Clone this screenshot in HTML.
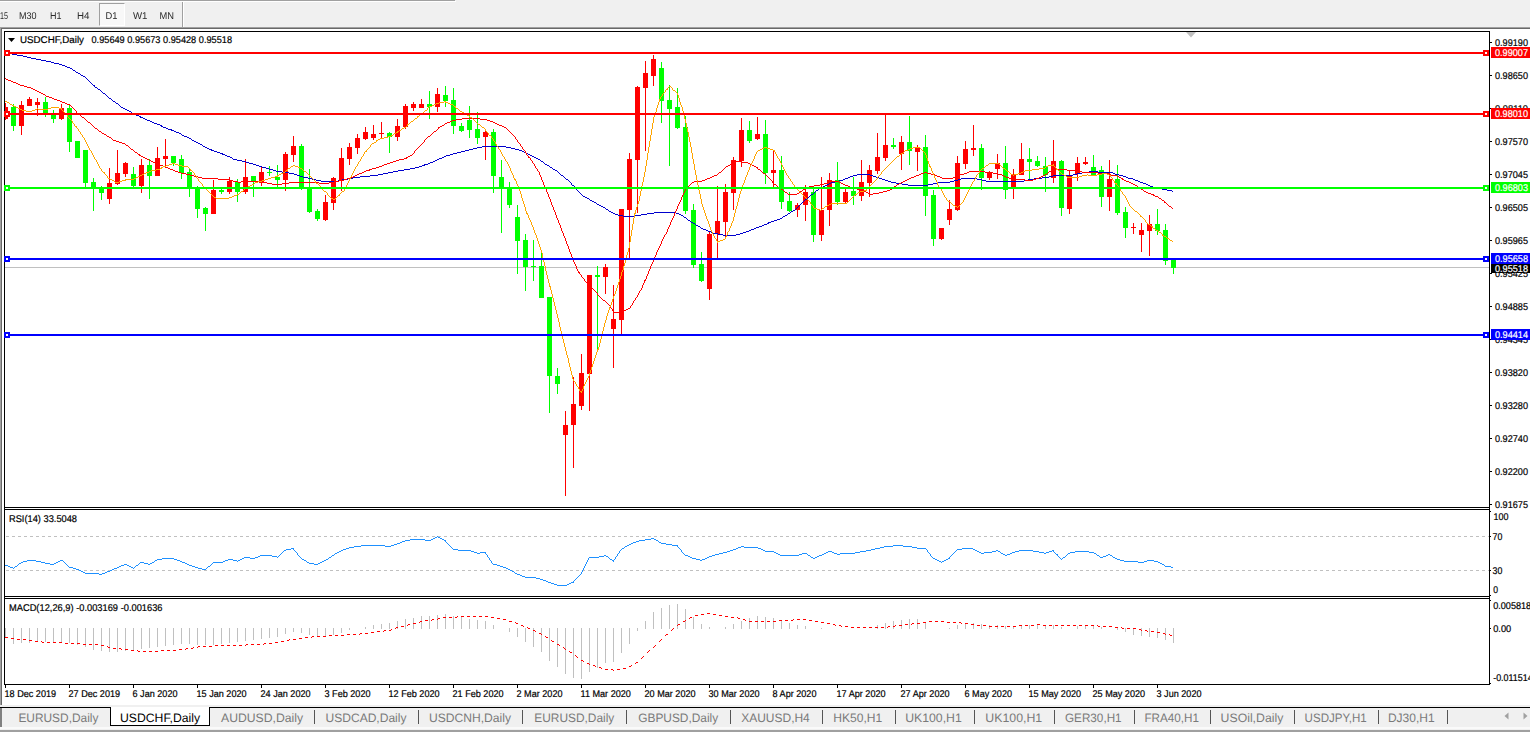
<!DOCTYPE html>
<html><head><meta charset="utf-8"><title>USDCHF,Daily</title>
<style>
html,body{margin:0;padding:0;background:#fff;}
body{width:1530px;height:732px;overflow:hidden;position:relative;font-family:"Liberation Sans",sans-serif;}
.abs{position:absolute;}
#toolbar{left:0;top:0;width:1530px;height:27px;background:#f0f0f0;}
#tl0{left:0;top:0;width:455px;height:1px;background:#a0a0a0;}
#tl1{left:0;top:1px;width:456px;height:1px;background:#fff;}
#d1{left:99px;top:3px;width:24px;height:21px;border:1px solid #fff;border-left-color:#a0a0a0;border-top-color:#a0a0a0;background:#f8f8f8;}
#tsep{left:182px;top:2px;width:1px;height:25px;background:#a0a0a0;}
#tsep2{left:183px;top:2px;width:1px;height:25px;background:#fff;}
#f1{left:0;top:27px;width:1530px;height:1px;background:#a0a0a0;}
#f2{left:1px;top:28px;width:1529px;height:1px;background:#696969;}
#f3{left:0;top:27px;width:1px;height:679px;background:#a0a0a0;}
#f4{left:1px;top:28px;width:1px;height:678px;background:#696969;}
#tabbar{left:0;top:705px;width:1530px;height:27px;background:#f0f0f0;}
#tabline{left:0;top:707px;width:1530px;height:1px;background:#000;}
#tabact{left:110px;top:707px;width:98px;height:18px;background:#fff;border-left:1px solid #000;border-right:1px solid #000;border-bottom:1px solid #000;}
#tbl{left:0;top:708px;width:2px;height:19px;background:#808080;}
#bot1{left:0;top:727px;width:1530px;height:2px;background:#fafafa;}
#bot2{left:0;top:730px;width:1530px;height:2px;background:#a0a0a0;}
svg{position:absolute;left:0;top:0;}
text{font-family:"Liberation Sans",sans-serif;text-rendering:geometricPrecision;}
.ct text{stroke-width:0.2px;}
</style></head><body>
<div id="toolbar" class="abs"></div><div id="tl0" class="abs"></div><div id="tl1" class="abs"></div>
<div id="d1" class="abs"></div><div id="tsep" class="abs"></div><div id="tsep2" class="abs"></div>
<div id="f1" class="abs"></div><div id="f2" class="abs"></div><div id="f3" class="abs"></div><div id="f4" class="abs"></div>
<div id="tabbar" class="abs"></div><div id="tabline" class="abs"></div><div id="tabact" class="abs"></div><div id="tbl" class="abs"></div>
<div id="bot1" class="abs"></div><div id="bot2" class="abs"></div>
<svg width="1530" height="732" viewBox="0 0 1530 732">
<rect x="5" y="267" width="1484" height="1" fill="#c0c0c0"/>
<g shape-rendering="crispEdges">
<path fill="#ff0000" d="M5 103v17h1v-17zM5 107v12h3v-12zM21 101v34h1v-34zM19 105v21h5v-21zM29 97v9h1v-9zM27 99v7h5v-7zM37 98v18h1v-18zM35 102v3h5v-3zM61 104v16h1v-16zM59 108v11h5v-11zM109 168v36h1v-36zM107 183v16h5v-16zM117 150v35h1v-35zM115 173v11h5v-11zM125 162v15h1v-15zM123 163v11h5v-11zM141 159v34h1v-34zM139 165v21h5v-21zM157 147v29h1v-29zM155 158v18h5v-18zM165 139v28h1v-28zM163 156v3h5v-3zM213 180v34h1v-34zM211 190v24h5v-24zM229 177v17h1v-17zM227 181v11h5v-11zM245 159v35h1v-35zM243 177v15h5v-15zM261 167v19h1v-19zM259 172v10h5v-10zM285 152v39h1v-39zM283 154v26h5v-26zM293 136v26h1v-26zM291 146v9h5v-9zM325 195v26h1v-26zM323 202v18h5v-18zM333 177v33h1v-33zM331 178v25h5v-25zM341 148v43h1v-43zM339 158v22h5v-22zM349 143v22h1v-22zM347 147v12h5v-12zM357 134v20h1v-20zM355 138v10h5v-10zM365 127v13h1v-13zM363 132v7h5v-7zM373 125v15h1v-15zM371 134v4h5v-4zM381 122v16h1v-16zM379 133v1h5v-1zM397 119v22h1v-22zM395 126v11h5v-11zM405 104v25h1v-25zM403 106v21h5v-21zM413 102v9h1v-9zM411 104v4h5v-4zM421 99v9h1v-9zM419 104v4h5v-4zM437 88v24h1v-24zM435 94v13h5v-13zM485 129v31h1v-31zM483 132v5h5v-5zM565 411v85h1v-85zM563 425v10h5v-10zM573 377v91h1v-91zM571 404v21h5v-21zM581 354v56h1v-56zM579 373v33h5v-33zM589 275v136h1v-136zM587 275v99h5v-99zM605 264v30h1v-30zM603 267v10h5v-10zM613 285v83h1v-83zM611 319v10h5v-10zM621 209v125h1v-125zM619 209v111h5v-111zM629 153v106h1v-106zM627 159v51h5v-51zM637 86v127h1v-127zM635 87v73h5v-73zM645 61v90h1v-90zM643 73v15h5v-15zM653 55v31h1v-31zM651 59v17h5v-17zM709 232v68h1v-68zM707 234v55h5v-55zM717 186v73h1v-73zM715 221v13h5v-13zM725 184v53h1v-53zM723 192v30h5v-30zM733 157v53h1v-53zM731 160v33h5v-33zM741 118v49h1v-49zM739 130v31h5v-31zM757 117v23h1v-23zM755 134v5h5v-5zM773 150v37h1v-37zM771 170v3h5v-3zM797 203v14h1v-14zM795 205v5h5v-5zM805 185v36h1v-36zM803 192v13h5v-13zM821 177v64h1v-64zM819 210v25h5v-25zM829 173v53h1v-53zM827 180v30h5v-30zM845 189v14h1v-14zM843 192v10h5v-10zM861 160v41h1v-41zM859 182v14h5v-14zM869 165v32h1v-32zM867 170v13h5v-13zM877 133v41h1v-41zM875 157v14h5v-14zM885 115v46h1v-46zM883 145v13h5v-13zM901 136v34h1v-34zM899 142v12h5v-12zM917 145v26h1v-26zM915 147v5h5v-5zM941 228v12h1v-12zM939 228v11h5v-11zM949 200v25h1v-25zM947 209v11h5v-11zM957 156v55h1v-55zM955 163v47h5v-47zM965 141v28h1v-28zM963 149v15h5v-15zM973 125v31h1v-31zM971 148v2h5v-2zM989 171v9h1v-9zM987 172v6h5v-6zM997 154v25h1v-25zM995 163v6h5v-6zM1013 169v30h1v-30zM1011 175v13h5v-13zM1021 143v32h1v-32zM1019 159v16h5v-16zM1053 140v43h1v-43zM1051 161v17h5v-17zM1069 170v44h1v-44zM1067 175v34h5v-34zM1077 157v24h1v-24zM1075 163v11h5v-11zM1085 157v8h1v-8zM1083 162v2h5v-2zM1109 160v51h1v-51zM1107 179v18h5v-18zM1133 223v11h1v-11zM1131 227v1h5v-1zM1141 223v29h1v-29zM1139 230v5h5v-5zM1149 215v41h1v-41zM1147 224v7h5v-7z"/>
<path fill="#00ff00" d="M13 104v27h1v-27zM11 107v19h5v-19zM45 97v20h1v-20zM43 102v11h5v-11zM53 110v13h1v-13zM51 115v4h5v-4zM69 104v48h1v-48zM67 108v34h5v-34zM77 141v17h1v-17zM75 141v17h5v-17zM85 150v38h1v-38zM83 150v33h5v-33zM93 178v33h1v-33zM91 182v6h5v-6zM101 186v14h1v-14zM99 187v6h5v-6zM133 167v21h1v-21zM131 174v12h5v-12zM149 159v40h1v-40zM147 165v11h5v-11zM173 156v10h1v-10zM171 156v7h5v-7zM181 155v24h1v-24zM179 159v14h5v-14zM189 169v28h1v-28zM187 172v16h5v-16zM197 186v32h1v-32zM195 188v21h5v-21zM205 207v24h1v-24zM203 208v6h5v-6zM221 189v5h1v-5zM219 190v2h5v-2zM237 179v23h1v-23zM235 182v10h5v-10zM253 176v21h1v-21zM251 176v6h5v-6zM269 166v10h1v-10zM267 172v1h5v-1zM277 165v23h1v-23zM275 177v3h5v-3zM301 144v46h1v-46zM299 146v42h5v-42zM309 169v44h1v-44zM307 188v24h5v-24zM317 209v12h1v-12zM315 211v8h5v-8zM389 132v21h1v-21zM387 133v4h5v-4zM429 91v28h1v-28zM427 104v3h5v-3zM445 86v21h1v-21zM443 95v6h5v-6zM453 88v46h1v-46zM451 100v26h5v-26zM461 123v9h1v-9zM459 126v5h5v-5zM469 106v32h1v-32zM467 120v10h5v-10zM477 112v32h1v-32zM475 129v9h5v-9zM493 129v64h1v-64zM491 132v44h5v-44zM501 160v73h1v-73zM499 177v11h5v-11zM509 182v26h1v-26zM507 187v18h5v-18zM517 205v69h1v-69zM515 217v24h5v-24zM525 234v57h1v-57zM523 240v27h5v-27zM533 240v41h1v-41zM531 266v1h5v-1zM541 252v46h1v-46zM539 266v32h5v-32zM549 297v116h1v-116zM547 297v79h5v-79zM557 368v26h1v-26zM555 376v8h5v-8zM597 266v84h1v-84zM595 275v2h5v-2zM661 62v61h1v-61zM659 68v33h5v-33zM669 85v81h1v-81zM667 100v9h5v-9zM677 88v41h1v-41zM675 107v21h5v-21zM685 116v98h1v-98zM683 127v84h5v-84zM693 204v64h1v-64zM691 210v55h5v-55zM701 252v30h1v-30zM699 264v17h5v-17zM749 121v22h1v-22zM747 130v11h5v-11zM765 120v64h1v-64zM763 134v39h5v-39zM781 156v53h1v-53zM779 170v32h5v-32zM789 192v20h1v-20zM787 201v10h5v-10zM813 189v53h1v-53zM811 192v43h5v-43zM837 162v43h1v-43zM835 180v22h5v-22zM853 177v28h1v-28zM851 191v5h5v-5zM893 138v11h1v-11zM891 145v2h5v-2zM909 116v49h1v-49zM907 142v9h5v-9zM925 135v81h1v-81zM923 147v49h5v-49zM933 190v56h1v-56zM931 195v44h5v-44zM981 144v46h1v-46zM979 148v30h5v-30zM1005 146v53h1v-53zM1003 163v27h5v-27zM1029 148v33h1v-33zM1027 159v3h5v-3zM1037 156v11h1v-11zM1035 161v5h5v-5zM1045 157v35h1v-35zM1043 166v9h5v-9zM1061 160v56h1v-56zM1059 161v47h5v-47zM1093 155v21h1v-21zM1091 167v9h5v-9zM1101 166v41h1v-41zM1099 170v27h5v-27zM1117 165v50h1v-50zM1115 179v34h5v-34zM1125 207v31h1v-31zM1123 212v16h5v-16zM1157 209v26h1v-26zM1155 224v7h5v-7zM1165 224v41h1v-41zM1163 230v31h5v-31zM1173 260v14h1v-14zM1171 260v8h5v-8z"/>
</g>
<g shape-rendering="crispEdges">
<path fill="#0000cd" d="M12 54h5v1h-5zM17 55h6v1h-6zM23 56h4v1h-4zM27 57h4v1h-4zM31 58h5v1h-5zM36 59h5v1h-5zM41 60h5v1h-5zM46 61h5v1h-5zM51 62h3v1h-3zM54 63h5v1h-5zM59 64h3v1h-3zM62 65h3v1h-3zM65 66h2v1h-2zM67 67h3v1h-3zM70 68h2v1h-2zM72 69h1v1h-1zM73 70h2v1h-2zM75 71h1v1h-1zM76 72h2v1h-2zM78 73h2v1h-2zM80 74h1v1h-1zM81 75h2v1h-2zM83 76h2v1h-2zM85 77h1v1h-1zM86 78h1v1h-1zM87 79h1v1h-1zM88 80h1v1h-1zM89 81h1v1h-1zM90 82h1v1h-1zM91 83h1v1h-1zM92 84h1v1h-1zM93 85h2v1h-2zM94 86h1v1h-1zM95 87h2v1h-2zM97 88h1v1h-1zM98 89h2v1h-2zM100 90h1v1h-1zM101 91h1v1h-1zM102 92h1v1h-1zM103 93h2v1h-2zM105 94h1v1h-1zM106 95h1v1h-1zM107 96h1v1h-1zM108 97h1v1h-1zM109 98h2v1h-2zM111 99h1v1h-1zM112 100h1v1h-1zM113 101h2v1h-2zM115 102h1v1h-1zM116 103h2v1h-2zM118 104h1v1h-1zM119 105h1v1h-1zM120 106h1v1h-1zM121 107h2v1h-2zM123 108h2v1h-2zM125 109h2v1h-2zM127 110h2v1h-2zM129 111h2v1h-2zM131 112h1v1h-1zM132 113h2v1h-2zM134 114h2v1h-2zM136 115h3v1h-3zM139 116h2v1h-2zM140 117h3v1h-3zM143 118h2v1h-2zM145 119h2v1h-2zM147 120h3v1h-3zM150 121h2v1h-2zM152 122h2v1h-2zM154 123h3v1h-3zM157 124h3v1h-3zM160 125h2v1h-2zM161 126h2v1h-2zM163 127h3v1h-3zM166 128h2v1h-2zM168 129h4v1h-4zM171 130h3v1h-3zM174 131h2v1h-2zM176 132h3v1h-3zM179 133h2v1h-2zM181 134h1v1h-1zM182 135h2v1h-2zM184 136h3v1h-3zM187 137h2v1h-2zM189 138h2v1h-2zM191 139h1v1h-1zM192 140h2v1h-2zM194 141h2v1h-2zM196 142h2v1h-2zM198 143h2v1h-2zM200 144h2v1h-2zM202 145h1v1h-1zM203 146h2v1h-2zM482 146h24v1h-24zM205 147h2v1h-2zM477 147h5v1h-5zM506 147h5v1h-5zM207 148h2v1h-2zM473 148h4v1h-4zM511 148h4v1h-4zM209 149h3v1h-3zM469 149h4v1h-4zM515 149h4v1h-4zM211 150h3v1h-3zM465 150h4v1h-4zM519 150h3v1h-3zM214 151h3v1h-3zM461 151h4v1h-4zM522 151h2v1h-2zM217 152h3v1h-3zM457 152h4v1h-4zM524 152h2v1h-2zM220 153h3v1h-3zM453 153h4v1h-4zM526 153h2v1h-2zM222 154h3v1h-3zM450 154h3v1h-3zM528 154h2v1h-2zM225 155h2v1h-2zM446 155h4v1h-4zM530 155h2v1h-2zM227 156h3v1h-3zM444 156h2v1h-2zM532 156h2v1h-2zM230 157h2v1h-2zM442 157h2v1h-2zM534 157h2v1h-2zM232 158h1v1h-1zM439 158h3v1h-3zM536 158h2v1h-2zM233 159h4v1h-4zM437 159h2v1h-2zM538 159h2v1h-2zM237 160h5v1h-5zM435 160h2v1h-2zM540 160h1v1h-1zM242 161h4v1h-4zM433 161h2v1h-2zM541 161h2v1h-2zM246 162h3v1h-3zM430 162h3v1h-3zM543 162h1v1h-1zM249 163h4v1h-4zM428 163h2v1h-2zM544 163h1v1h-1zM253 164h3v1h-3zM424 164h4v1h-4zM545 164h2v1h-2zM256 165h3v1h-3zM422 165h3v1h-3zM547 165h2v1h-2zM259 166h3v1h-3zM419 166h3v1h-3zM549 166h1v1h-1zM262 167h4v1h-4zM415 167h4v1h-4zM550 167h2v1h-2zM266 168h3v1h-3zM410 168h5v1h-5zM552 168h1v1h-1zM269 169h4v1h-4zM404 169h6v1h-6zM553 169h2v1h-2zM273 170h3v1h-3zM398 170h6v1h-6zM555 170h2v1h-2zM276 171h6v1h-6zM393 171h5v1h-5zM557 171h1v1h-1zM1089 171h9v1h-9zM282 172h7v1h-7zM388 172h5v1h-5zM558 172h1v1h-1zM1082 172h7v1h-7zM1098 172h15v1h-15zM289 173h5v1h-5zM383 173h5v1h-5zM559 173h1v1h-1zM1077 173h5v1h-5zM1113 173h2v1h-2zM294 174h3v1h-3zM378 174h5v1h-5zM560 174h1v1h-1zM857 174h13v1h-13zM1073 174h4v1h-4zM1115 174h4v1h-4zM297 175h3v1h-3zM370 175h8v1h-8zM561 175h2v1h-2zM853 175h4v1h-4zM870 175h3v1h-3zM1053 175h20v1h-20zM1119 175h4v1h-4zM300 176h3v1h-3zM360 176h10v1h-10zM563 176h1v1h-1zM850 176h3v1h-3zM873 176h3v1h-3zM1049 176h4v1h-4zM1123 176h3v1h-3zM303 177h5v1h-5zM353 177h7v1h-7zM564 177h1v1h-1zM848 177h2v1h-2zM876 177h3v1h-3zM1042 177h7v1h-7zM1126 177h2v1h-2zM308 178h4v1h-4zM348 178h5v1h-5zM565 178h1v1h-1zM845 178h3v1h-3zM879 178h3v1h-3zM961 178h16v1h-16zM1034 178h8v1h-8zM1128 178h5v1h-5zM312 179h4v1h-4zM342 179h6v1h-6zM566 179h2v1h-2zM843 179h2v1h-2zM882 179h3v1h-3zM958 179h3v1h-3zM977 179h5v1h-5zM1028 179h6v1h-6zM1133 179h2v1h-2zM316 180h5v1h-5zM338 180h4v1h-4zM568 180h1v1h-1zM839 180h4v1h-4zM885 180h3v1h-3zM954 180h4v1h-4zM982 180h4v1h-4zM1024 180h4v1h-4zM1135 180h3v1h-3zM321 181h17v1h-17zM569 181h1v1h-1zM835 181h4v1h-4zM888 181h3v1h-3zM950 181h4v1h-4zM986 181h38v1h-38zM1138 181h2v1h-2zM570 182h1v1h-1zM831 182h4v1h-4zM891 182h5v1h-5zM938 182h12v1h-12zM1140 182h3v1h-3zM571 183h1v1h-1zM829 183h2v1h-2zM896 183h6v1h-6zM933 183h5v1h-5zM1143 183h3v1h-3zM571 184h1v1h-1zM827 184h2v1h-2zM902 184h6v1h-6zM928 184h5v1h-5zM1146 184h2v1h-2zM572 185h2v1h-2zM825 185h2v1h-2zM908 185h20v1h-20zM1148 185h2v1h-2zM574 186h1v1h-1zM823 186h2v1h-2zM1150 186h3v1h-3zM575 187h1v1h-1zM821 187h2v1h-2zM1153 187h4v1h-4zM576 188h1v1h-1zM819 188h2v1h-2zM1157 188h6v1h-6zM576 189h1v1h-1zM818 189h1v1h-1zM1162 189h5v1h-5zM577 190h1v1h-1zM816 190h2v1h-2zM1167 190h5v1h-5zM578 191h1v1h-1zM815 191h1v1h-1zM1172 191h1v1h-1zM579 192h1v1h-1zM814 192h1v1h-1zM580 193h1v1h-1zM813 193h1v1h-1zM581 194h1v1h-1zM811 194h2v1h-2zM582 195h1v1h-1zM810 195h1v1h-1zM583 196h2v1h-2zM809 196h1v1h-1zM585 197h2v1h-2zM808 197h1v1h-1zM587 198h2v1h-2zM807 198h1v1h-1zM589 199h1v1h-1zM805 199h2v1h-2zM590 200h2v1h-2zM804 200h1v1h-1zM592 201h2v1h-2zM803 201h1v1h-1zM594 202h2v1h-2zM802 202h1v1h-1zM596 203h1v1h-1zM801 203h1v1h-1zM597 204h2v1h-2zM800 204h1v1h-1zM599 205h2v1h-2zM799 205h1v1h-1zM601 206h2v1h-2zM798 206h1v1h-1zM603 207h2v1h-2zM797 207h1v1h-1zM605 208h1v1h-1zM796 208h1v1h-1zM606 209h2v1h-2zM795 209h1v1h-1zM608 210h1v1h-1zM793 210h2v1h-2zM609 211h2v1h-2zM791 211h2v1h-2zM611 212h2v1h-2zM654 212h22v1h-22zM790 212h1v1h-1zM613 213h2v1h-2zM647 213h7v1h-7zM676 213h3v1h-3zM788 213h2v1h-2zM615 214h3v1h-3zM641 214h6v1h-6zM679 214h2v1h-2zM787 214h1v1h-1zM618 215h5v1h-5zM634 215h7v1h-7zM681 215h2v1h-2zM785 215h2v1h-2zM623 216h11v1h-11zM683 216h1v1h-1zM783 216h2v1h-2zM684 217h2v1h-2zM782 217h1v1h-1zM686 218h1v1h-1zM780 218h2v1h-2zM687 219h1v1h-1zM777 219h3v1h-3zM688 220h2v1h-2zM774 220h3v1h-3zM690 221h1v1h-1zM771 221h3v1h-3zM691 222h2v1h-2zM768 222h3v1h-3zM693 223h2v1h-2zM767 223h2v1h-2zM695 224h1v1h-1zM764 224h3v1h-3zM696 225h2v1h-2zM762 225h2v1h-2zM698 226h2v1h-2zM759 226h3v1h-3zM700 227h1v1h-1zM756 227h3v1h-3zM701 228h2v1h-2zM754 228h2v1h-2zM703 229h3v1h-3zM751 229h3v1h-3zM706 230h2v1h-2zM749 230h2v1h-2zM708 231h3v1h-3zM746 231h3v1h-3zM711 232h2v1h-2zM743 232h3v1h-3zM713 233h5v1h-5zM740 233h3v1h-3zM718 234h5v1h-5zM736 234h4v1h-4zM723 235h13v1h-13z"/>
<path fill="#ff0000" d="M5 78h1v1h-1zM6 79h2v1h-2zM8 80h3v1h-3zM11 81h2v1h-2zM13 82h3v1h-3zM16 83h2v1h-2zM18 84h2v1h-2zM20 85h4v1h-4zM24 86h3v1h-3zM27 87h4v1h-4zM31 88h2v1h-2zM33 89h2v1h-2zM35 90h2v1h-2zM37 91h2v1h-2zM39 92h2v1h-2zM41 93h2v1h-2zM43 94h2v1h-2zM45 95h1v1h-1zM46 96h3v1h-3zM49 97h3v1h-3zM52 98h2v1h-2zM54 99h3v1h-3zM57 100h3v1h-3zM60 101h2v1h-2zM62 102h3v1h-3zM65 103h2v1h-2zM67 104h3v1h-3zM70 105h1v1h-1zM71 106h1v1h-1zM72 107h1v1h-1zM73 108h1v1h-1zM74 109h1v1h-1zM75 110h1v1h-1zM76 111h1v1h-1zM76 112h1v1h-1zM77 113h2v1h-2zM79 114h1v1h-1zM80 115h1v1h-1zM81 116h1v1h-1zM82 117h2v1h-2zM84 118h1v1h-1zM462 118h18v1h-18zM85 119h1v1h-1zM456 119h6v1h-6zM480 119h7v1h-7zM86 120h1v1h-1zM452 120h4v1h-4zM487 120h3v1h-3zM87 121h1v1h-1zM450 121h2v1h-2zM490 121h3v1h-3zM88 122h2v1h-2zM447 122h3v1h-3zM493 122h2v1h-2zM90 123h1v1h-1zM445 123h2v1h-2zM495 123h2v1h-2zM91 124h1v1h-1zM444 124h1v1h-1zM497 124h2v1h-2zM92 125h1v1h-1zM442 125h2v1h-2zM499 125h3v1h-3zM93 126h1v1h-1zM440 126h2v1h-2zM502 126h2v1h-2zM94 127h1v1h-1zM438 127h2v1h-2zM504 127h2v1h-2zM95 128h2v1h-2zM438 128h1v1h-1zM506 128h1v1h-1zM97 129h1v1h-1zM437 129h1v1h-1zM507 129h1v1h-1zM98 130h1v1h-1zM436 130h1v1h-1zM508 130h1v1h-1zM99 131h2v1h-2zM434 131h2v1h-2zM509 131h1v1h-1zM101 132h1v1h-1zM433 132h1v1h-1zM510 132h1v1h-1zM102 133h2v1h-2zM432 133h1v1h-1zM511 133h1v1h-1zM104 134h2v1h-2zM431 134h1v1h-1zM512 134h1v1h-1zM106 135h1v1h-1zM430 135h1v1h-1zM513 135h1v1h-1zM107 136h2v1h-2zM428 136h2v1h-2zM514 136h1v1h-1zM109 137h2v1h-2zM427 137h1v1h-1zM515 137h1v1h-1zM111 138h1v1h-1zM426 138h1v1h-1zM515 138h1v1h-1zM112 139h1v1h-1zM425 139h1v1h-1zM516 139h1v1h-1zM113 140h3v1h-3zM424 140h1v1h-1zM517 140h1v1h-1zM116 141h3v1h-3zM424 141h1v1h-1zM517 141h1v1h-1zM119 142h3v1h-3zM423 142h1v1h-1zM518 142h1v1h-1zM122 143h3v1h-3zM422 143h1v1h-1zM519 143h1v1h-1zM125 144h1v1h-1zM421 144h1v1h-1zM520 144h1v1h-1zM126 145h2v1h-2zM420 145h1v1h-1zM520 145h1v1h-1zM128 146h1v1h-1zM419 146h1v1h-1zM521 146h1v1h-1zM129 147h1v1h-1zM418 147h1v1h-1zM522 147h1v1h-1zM130 148h1v1h-1zM417 148h1v1h-1zM522 148h1v1h-1zM131 149h2v1h-2zM416 149h1v1h-1zM523 149h1v1h-1zM133 150h1v1h-1zM415 150h1v1h-1zM524 150h1v1h-1zM134 151h1v1h-1zM414 151h1v1h-1zM525 151h1v1h-1zM135 152h2v1h-2zM414 152h1v1h-1zM525 152h1v1h-1zM137 153h1v1h-1zM413 153h1v1h-1zM526 153h1v1h-1zM138 154h2v1h-2zM412 154h1v1h-1zM526 154h1v1h-1zM139 155h2v1h-2zM410 155h2v1h-2zM527 155h1v1h-1zM141 156h2v1h-2zM408 156h2v1h-2zM528 156h1v1h-1zM143 157h2v1h-2zM406 157h2v1h-2zM528 157h2v1h-2zM145 158h2v1h-2zM404 158h3v1h-3zM530 158h1v1h-1zM147 159h2v1h-2zM399 159h5v1h-5zM530 159h1v1h-1zM149 160h2v1h-2zM396 160h3v1h-3zM531 160h1v1h-1zM151 161h2v1h-2zM393 161h3v1h-3zM532 161h1v1h-1zM735 161h7v1h-7zM153 162h2v1h-2zM390 162h3v1h-3zM532 162h1v1h-1zM733 162h2v1h-2zM742 162h6v1h-6zM155 163h3v1h-3zM387 163h3v1h-3zM533 163h1v1h-1zM731 163h2v1h-2zM748 163h2v1h-2zM158 164h2v1h-2zM384 164h3v1h-3zM534 164h1v1h-1zM730 164h1v1h-1zM750 164h2v1h-2zM160 165h3v1h-3zM382 165h2v1h-2zM534 165h1v1h-1zM728 165h2v1h-2zM752 165h2v1h-2zM163 166h2v1h-2zM379 166h3v1h-3zM535 166h1v1h-1zM726 166h2v1h-2zM754 166h2v1h-2zM165 167h3v1h-3zM376 167h3v1h-3zM535 167h1v1h-1zM725 167h1v1h-1zM756 167h2v1h-2zM168 168h2v1h-2zM372 168h4v1h-4zM536 168h1v1h-1zM724 168h1v1h-1zM757 168h1v1h-1zM170 169h3v1h-3zM369 169h3v1h-3zM537 169h1v1h-1zM723 169h1v1h-1zM758 169h2v1h-2zM1055 169h12v1h-12zM173 170h2v1h-2zM366 170h4v1h-4zM537 170h1v1h-1zM722 170h1v1h-1zM760 170h1v1h-1zM1052 170h3v1h-3zM1067 170h9v1h-9zM175 171h3v1h-3zM364 171h2v1h-2zM538 171h1v1h-1zM721 171h1v1h-1zM761 171h1v1h-1zM969 171h16v1h-16zM1049 171h3v1h-3zM1076 171h6v1h-6zM178 172h3v1h-3zM362 172h2v1h-2zM539 172h1v1h-1zM719 172h2v1h-2zM762 172h1v1h-1zM924 172h3v1h-3zM967 172h2v1h-2zM985 172h8v1h-8zM1048 172h1v1h-1zM1082 172h16v1h-16zM181 173h5v1h-5zM359 173h3v1h-3zM539 173h1v1h-1zM718 173h1v1h-1zM763 173h2v1h-2zM921 173h3v1h-3zM927 173h4v1h-4zM964 173h3v1h-3zM993 173h5v1h-5zM1047 173h1v1h-1zM1098 173h11v1h-11zM186 174h4v1h-4zM357 174h2v1h-2zM539 174h1v1h-1zM717 174h1v1h-1zM765 174h1v1h-1zM919 174h2v1h-2zM931 174h4v1h-4zM960 174h4v1h-4zM998 174h4v1h-4zM1045 174h2v1h-2zM1109 174h2v1h-2zM190 175h4v1h-4zM355 175h2v1h-2zM540 175h1v1h-1zM714 175h3v1h-3zM766 175h1v1h-1zM916 175h3v1h-3zM935 175h2v1h-2zM958 175h2v1h-2zM1002 175h2v1h-2zM1043 175h2v1h-2zM1111 175h6v1h-6zM194 176h4v1h-4zM353 176h2v1h-2zM540 176h1v1h-1zM712 176h2v1h-2zM767 176h1v1h-1zM914 176h2v1h-2zM937 176h3v1h-3zM955 176h3v1h-3zM1004 176h2v1h-2zM1041 176h2v1h-2zM1117 176h2v1h-2zM198 177h4v1h-4zM350 177h3v1h-3zM541 177h1v1h-1zM710 177h2v1h-2zM768 177h1v1h-1zM911 177h3v1h-3zM940 177h2v1h-2zM953 177h2v1h-2zM1006 177h3v1h-3zM1039 177h2v1h-2zM1119 177h2v1h-2zM202 178h16v1h-16zM347 178h3v1h-3zM541 178h1v1h-1zM707 178h3v1h-3zM769 178h1v1h-1zM909 178h2v1h-2zM942 178h11v1h-11zM1009 178h2v1h-2zM1036 178h3v1h-3zM1121 178h2v1h-2zM218 179h12v1h-12zM344 179h3v1h-3zM541 179h1v1h-1zM705 179h2v1h-2zM770 179h1v1h-1zM907 179h2v1h-2zM1011 179h14v1h-14zM1033 179h3v1h-3zM1122 179h2v1h-2zM229 180h4v1h-4zM339 180h5v1h-5zM542 180h1v1h-1zM702 180h3v1h-3zM771 180h1v1h-1zM905 180h2v1h-2zM1025 180h8v1h-8zM1124 180h2v1h-2zM233 181h5v1h-5zM241 181h18v1h-18zM334 181h5v1h-5zM542 181h1v1h-1zM694 181h8v1h-8zM772 181h1v1h-1zM829 181h10v1h-10zM903 181h2v1h-2zM1126 181h3v1h-3zM238 182h3v1h-3zM259 182h8v1h-8zM289 182h30v1h-30zM329 182h5v1h-5zM543 182h1v1h-1zM692 182h2v1h-2zM772 182h1v1h-1zM827 182h2v1h-2zM839 182h2v1h-2zM901 182h2v1h-2zM1129 182h2v1h-2zM267 183h5v1h-5zM282 183h7v1h-7zM319 183h10v1h-10zM543 183h1v1h-1zM691 183h1v1h-1zM773 183h1v1h-1zM824 183h3v1h-3zM841 183h2v1h-2zM899 183h2v1h-2zM1131 183h2v1h-2zM272 184h10v1h-10zM543 184h1v1h-1zM690 184h1v1h-1zM774 184h2v1h-2zM820 184h4v1h-4zM843 184h2v1h-2zM897 184h2v1h-2zM1133 184h2v1h-2zM544 185h1v1h-1zM689 185h1v1h-1zM776 185h1v1h-1zM814 185h6v1h-6zM845 185h3v1h-3zM896 185h1v1h-1zM1135 185h2v1h-2zM544 186h1v1h-1zM688 186h1v1h-1zM777 186h1v1h-1zM809 186h5v1h-5zM848 186h2v1h-2zM894 186h2v1h-2zM1137 186h1v1h-1zM545 187h1v1h-1zM687 187h1v1h-1zM778 187h2v1h-2zM807 187h2v1h-2zM850 187h3v1h-3zM893 187h1v1h-1zM1138 187h2v1h-2zM545 188h1v1h-1zM686 188h1v1h-1zM780 188h1v1h-1zM805 188h2v1h-2zM853 188h4v1h-4zM892 188h1v1h-1zM1140 188h1v1h-1zM546 189h1v1h-1zM685 189h1v1h-1zM781 189h2v1h-2zM803 189h2v1h-2zM857 189h4v1h-4zM890 189h2v1h-2zM1141 189h2v1h-2zM546 190h1v1h-1zM685 190h1v1h-1zM783 190h1v1h-1zM802 190h1v1h-1zM861 190h3v1h-3zM887 190h3v1h-3zM1143 190h1v1h-1zM546 191h1v1h-1zM684 191h1v1h-1zM784 191h1v1h-1zM800 191h2v1h-2zM864 191h2v1h-2zM883 191h4v1h-4zM1144 191h2v1h-2zM547 192h1v1h-1zM684 192h1v1h-1zM785 192h2v1h-2zM799 192h1v1h-1zM866 192h2v1h-2zM879 192h4v1h-4zM1146 192h2v1h-2zM547 193h1v1h-1zM683 193h1v1h-1zM787 193h1v1h-1zM797 193h2v1h-2zM868 193h2v1h-2zM873 193h6v1h-6zM1148 193h3v1h-3zM548 194h1v1h-1zM683 194h1v1h-1zM788 194h9v1h-9zM870 194h3v1h-3zM1151 194h3v1h-3zM548 195h1v1h-1zM682 195h1v1h-1zM1153 195h2v1h-2zM548 196h1v1h-1zM682 196h1v1h-1zM1155 196h3v1h-3zM549 197h1v1h-1zM681 197h1v1h-1zM1158 197h1v1h-1zM549 198h1v1h-1zM681 198h1v1h-1zM1159 198h2v1h-2zM550 199h1v1h-1zM681 199h1v1h-1zM1161 199h1v1h-1zM550 200h1v1h-1zM680 200h1v1h-1zM1162 200h2v1h-2zM550 201h1v1h-1zM680 201h1v1h-1zM1164 201h1v1h-1zM551 202h1v1h-1zM679 202h1v1h-1zM1164 202h2v1h-2zM551 203h1v1h-1zM679 203h1v1h-1zM1166 203h1v1h-1zM551 204h1v1h-1zM678 204h1v1h-1zM1167 204h1v1h-1zM552 205h1v1h-1zM678 205h1v1h-1zM1168 205h1v1h-1zM552 206h1v1h-1zM677 206h1v1h-1zM1169 206h2v1h-2zM553 207h1v1h-1zM677 207h1v1h-1zM1171 207h1v1h-1zM553 208h1v1h-1zM677 208h1v1h-1zM1172 208h1v1h-1zM553 209h1v1h-1zM676 209h1v1h-1zM554 210h1v1h-1zM676 210h1v1h-1zM554 211h1v1h-1zM675 211h1v1h-1zM555 212h1v1h-1zM675 212h1v1h-1zM555 213h1v1h-1zM674 213h1v1h-1zM555 214h1v1h-1zM674 214h1v1h-1zM556 215h1v1h-1zM674 215h1v1h-1zM556 216h1v1h-1zM673 216h1v1h-1zM556 217h1v1h-1zM673 217h1v1h-1zM557 218h1v1h-1zM672 218h1v1h-1zM557 219h1v1h-1zM672 219h1v1h-1zM558 220h1v1h-1zM671 220h1v1h-1zM558 221h1v1h-1zM671 221h1v1h-1zM558 222h1v1h-1zM670 222h1v1h-1zM559 223h1v1h-1zM670 223h1v1h-1zM559 224h1v1h-1zM670 224h1v1h-1zM560 225h1v1h-1zM669 225h1v1h-1zM560 226h1v1h-1zM669 226h1v1h-1zM560 227h1v1h-1zM668 227h1v1h-1zM561 228h1v1h-1zM668 228h1v1h-1zM561 229h1v1h-1zM667 229h1v1h-1zM561 230h1v1h-1zM667 230h1v1h-1zM562 231h1v1h-1zM667 231h1v1h-1zM562 232h1v1h-1zM666 232h1v1h-1zM563 233h1v1h-1zM666 233h1v1h-1zM563 234h1v1h-1zM665 234h1v1h-1zM563 235h1v1h-1zM664 235h1v1h-1zM564 236h1v1h-1zM664 236h1v1h-1zM564 237h1v1h-1zM663 237h1v1h-1zM565 238h1v1h-1zM663 238h1v1h-1zM565 239h1v1h-1zM662 239h1v1h-1zM565 240h1v1h-1zM662 240h1v1h-1zM566 241h1v1h-1zM661 241h1v1h-1zM566 242h1v1h-1zM661 242h1v1h-1zM566 243h1v1h-1zM661 243h1v1h-1zM567 244h1v1h-1zM660 244h1v1h-1zM567 245h1v1h-1zM660 245h1v1h-1zM568 246h1v1h-1zM659 246h1v1h-1zM568 247h1v1h-1zM659 247h1v1h-1zM568 248h1v1h-1zM658 248h1v1h-1zM569 249h1v1h-1zM658 249h1v1h-1zM569 250h1v1h-1zM657 250h1v1h-1zM569 251h1v1h-1zM657 251h1v1h-1zM570 252h1v1h-1zM656 252h1v1h-1zM570 253h1v1h-1zM656 253h1v1h-1zM571 254h1v1h-1zM656 254h1v1h-1zM571 255h1v1h-1zM655 255h1v1h-1zM571 256h1v1h-1zM655 256h1v1h-1zM572 257h1v1h-1zM654 257h1v1h-1zM572 258h1v1h-1zM654 258h1v1h-1zM573 259h1v1h-1zM653 259h1v1h-1zM573 260h1v1h-1zM653 260h1v1h-1zM573 261h1v1h-1zM653 261h1v1h-1zM574 262h1v1h-1zM652 262h1v1h-1zM574 263h1v1h-1zM652 263h1v1h-1zM575 264h1v1h-1zM651 264h1v1h-1zM575 265h1v1h-1zM651 265h1v1h-1zM576 266h1v1h-1zM650 266h1v1h-1zM576 267h1v1h-1zM650 267h1v1h-1zM576 268h1v1h-1zM650 268h1v1h-1zM577 269h1v1h-1zM649 269h1v1h-1zM577 270h1v1h-1zM649 270h1v1h-1zM578 271h1v1h-1zM648 271h1v1h-1zM578 272h2v1h-2zM648 272h1v1h-1zM579 273h1v1h-1zM648 273h1v1h-1zM580 274h1v1h-1zM647 274h1v1h-1zM581 275h1v1h-1zM647 275h1v1h-1zM581 276h1v1h-1zM646 276h1v1h-1zM582 277h1v1h-1zM646 277h1v1h-1zM583 278h1v1h-1zM646 278h1v1h-1zM584 279h1v1h-1zM645 279h1v1h-1zM584 280h1v1h-1zM644 280h2v1h-2zM585 281h1v1h-1zM644 281h1v1h-1zM586 282h1v1h-1zM644 282h1v1h-1zM587 283h1v1h-1zM643 283h1v1h-1zM588 284h1v1h-1zM643 284h1v1h-1zM589 285h1v1h-1zM642 285h1v1h-1zM589 286h1v1h-1zM642 286h1v1h-1zM590 287h1v1h-1zM642 287h1v1h-1zM591 288h2v1h-2zM641 288h1v1h-1zM593 289h1v1h-1zM641 289h1v1h-1zM594 290h1v1h-1zM640 290h1v1h-1zM595 291h1v1h-1zM639 291h1v1h-1zM596 292h1v1h-1zM639 292h1v1h-1zM597 293h1v1h-1zM638 293h1v1h-1zM597 294h1v1h-1zM638 294h1v1h-1zM598 295h1v1h-1zM637 295h1v1h-1zM599 296h1v1h-1zM637 296h1v1h-1zM600 297h1v1h-1zM636 297h1v1h-1zM601 298h1v1h-1zM635 298h1v1h-1zM602 299h1v1h-1zM635 299h1v1h-1zM603 300h2v1h-2zM634 300h1v1h-1zM605 301h1v1h-1zM633 301h1v1h-1zM606 302h1v1h-1zM633 302h1v1h-1zM607 303h1v1h-1zM632 303h1v1h-1zM608 304h1v1h-1zM632 304h1v1h-1zM609 305h1v1h-1zM631 305h1v1h-1zM610 306h1v1h-1zM630 306h1v1h-1zM610 307h1v1h-1zM630 307h1v1h-1zM611 308h1v1h-1zM628 308h2v1h-2zM612 309h1v1h-1zM626 309h2v1h-2zM612 310h1v1h-1zM624 310h2v1h-2zM613 311h1v1h-1zM623 311h1v1h-1zM614 312h9v1h-9z"/>
<path fill="#ffa500" d="M669 86h2v1h-2zM668 87h1v1h-1zM671 87h1v1h-1zM667 88h1v1h-1zM672 88h1v1h-1zM666 89h2v1h-2zM672 89h1v1h-1zM665 90h1v1h-1zM673 90h2v1h-2zM665 91h1v1h-1zM675 91h1v1h-1zM664 92h1v1h-1zM676 92h1v1h-1zM663 93h1v1h-1zM677 93h1v1h-1zM662 94h1v1h-1zM677 94h1v1h-1zM662 95h1v1h-1zM678 95h1v1h-1zM661 96h1v1h-1zM678 96h1v1h-1zM660 97h1v1h-1zM678 97h1v1h-1zM660 98h1v1h-1zM679 98h1v1h-1zM659 99h1v1h-1zM679 99h1v1h-1zM659 100h1v1h-1zM679 100h1v1h-1zM5 101h2v1h-2zM444 101h2v1h-2zM659 101h1v1h-1zM679 101h1v1h-1zM7 102h2v1h-2zM439 102h5v1h-5zM445 102h3v1h-3zM658 102h1v1h-1zM680 102h1v1h-1zM9 103h1v1h-1zM436 103h3v1h-3zM448 103h2v1h-2zM658 103h1v1h-1zM680 103h1v1h-1zM10 104h2v1h-2zM434 104h2v1h-2zM450 104h3v1h-3zM658 104h1v1h-1zM680 104h1v1h-1zM12 105h2v1h-2zM432 105h2v1h-2zM453 105h1v1h-1zM657 105h1v1h-1zM681 105h1v1h-1zM14 106h2v1h-2zM429 106h3v1h-3zM454 106h2v1h-2zM657 106h1v1h-1zM681 106h1v1h-1zM16 107h2v1h-2zM51 107h8v1h-8zM428 107h1v1h-1zM455 107h1v1h-1zM657 107h1v1h-1zM682 107h1v1h-1zM18 108h2v1h-2zM37 108h1v1h-1zM48 108h3v1h-3zM59 108h3v1h-3zM427 108h1v1h-1zM456 108h2v1h-2zM656 108h1v1h-1zM682 108h1v1h-1zM20 109h2v1h-2zM35 109h2v1h-2zM38 109h10v1h-10zM61 109h1v1h-1zM427 109h1v1h-1zM458 109h1v1h-1zM656 109h1v1h-1zM682 109h1v1h-1zM22 110h4v1h-4zM32 110h3v1h-3zM62 110h1v1h-1zM425 110h2v1h-2zM459 110h1v1h-1zM656 110h1v1h-1zM682 110h1v1h-1zM26 111h6v1h-6zM63 111h1v1h-1zM424 111h1v1h-1zM460 111h2v1h-2zM656 111h1v1h-1zM683 111h1v1h-1zM64 112h1v1h-1zM423 112h1v1h-1zM462 112h2v1h-2zM655 112h1v1h-1zM683 112h1v1h-1zM64 113h1v1h-1zM422 113h1v1h-1zM464 113h2v1h-2zM655 113h1v1h-1zM683 113h1v1h-1zM65 114h2v1h-2zM420 114h2v1h-2zM466 114h1v1h-1zM654 114h2v1h-2zM684 114h1v1h-1zM67 115h1v1h-1zM419 115h1v1h-1zM467 115h2v1h-2zM654 115h1v1h-1zM684 115h1v1h-1zM67 116h1v1h-1zM417 116h2v1h-2zM469 116h1v1h-1zM654 116h1v1h-1zM684 116h1v1h-1zM68 117h1v1h-1zM417 117h1v1h-1zM470 117h2v1h-2zM653 117h1v1h-1zM684 117h1v1h-1zM69 118h1v1h-1zM415 118h2v1h-2zM472 118h1v1h-1zM653 118h1v1h-1zM684 118h1v1h-1zM70 119h1v1h-1zM414 119h1v1h-1zM473 119h1v1h-1zM653 119h1v1h-1zM685 119h1v1h-1zM71 120h1v1h-1zM413 120h1v1h-1zM474 120h1v1h-1zM653 120h1v1h-1zM685 120h1v1h-1zM72 121h1v1h-1zM411 121h2v1h-2zM475 121h1v1h-1zM653 121h1v1h-1zM685 121h1v1h-1zM72 122h1v1h-1zM410 122h1v1h-1zM476 122h1v1h-1zM653 122h1v1h-1zM685 122h1v1h-1zM73 123h1v1h-1zM409 123h1v1h-1zM477 123h1v1h-1zM652 123h1v1h-1zM686 123h1v1h-1zM74 124h1v1h-1zM407 124h2v1h-2zM478 124h2v1h-2zM652 124h1v1h-1zM686 124h1v1h-1zM74 125h1v1h-1zM407 125h1v1h-1zM480 125h1v1h-1zM652 125h1v1h-1zM686 125h1v1h-1zM75 126h2v1h-2zM406 126h1v1h-1zM481 126h1v1h-1zM652 126h1v1h-1zM686 126h1v1h-1zM76 127h1v1h-1zM404 127h2v1h-2zM482 127h2v1h-2zM652 127h1v1h-1zM686 127h1v1h-1zM77 128h1v1h-1zM402 128h2v1h-2zM484 128h1v1h-1zM652 128h1v1h-1zM687 128h1v1h-1zM78 129h1v1h-1zM401 129h1v1h-1zM485 129h1v1h-1zM651 129h1v1h-1zM687 129h1v1h-1zM78 130h1v1h-1zM399 130h2v1h-2zM485 130h1v1h-1zM651 130h1v1h-1zM687 130h1v1h-1zM79 131h1v1h-1zM397 131h2v1h-2zM486 131h1v1h-1zM651 131h1v1h-1zM687 131h1v1h-1zM80 132h1v1h-1zM396 132h2v1h-2zM487 132h1v1h-1zM651 132h1v1h-1zM688 132h1v1h-1zM80 133h1v1h-1zM394 133h2v1h-2zM488 133h1v1h-1zM651 133h1v1h-1zM688 133h1v1h-1zM81 134h1v1h-1zM393 134h1v1h-1zM488 134h1v1h-1zM651 134h1v1h-1zM688 134h1v1h-1zM82 135h1v1h-1zM391 135h2v1h-2zM489 135h2v1h-2zM650 135h1v1h-1zM688 135h1v1h-1zM82 136h1v1h-1zM388 136h3v1h-3zM491 136h1v1h-1zM650 136h1v1h-1zM688 136h1v1h-1zM83 137h1v1h-1zM384 137h4v1h-4zM491 137h1v1h-1zM650 137h1v1h-1zM689 137h1v1h-1zM84 138h1v1h-1zM380 138h4v1h-4zM492 138h1v1h-1zM650 138h1v1h-1zM689 138h1v1h-1zM84 139h1v1h-1zM378 139h2v1h-2zM493 139h1v1h-1zM650 139h1v1h-1zM689 139h1v1h-1zM85 140h1v1h-1zM376 140h2v1h-2zM493 140h1v1h-1zM650 140h1v1h-1zM689 140h1v1h-1zM85 141h1v1h-1zM376 141h1v1h-1zM494 141h1v1h-1zM649 141h1v1h-1zM689 141h1v1h-1zM86 142h1v1h-1zM374 142h2v1h-2zM495 142h1v1h-1zM649 142h1v1h-1zM690 142h1v1h-1zM86 143h1v1h-1zM372 143h2v1h-2zM495 143h1v1h-1zM649 143h1v1h-1zM690 143h1v1h-1zM87 144h1v1h-1zM371 144h1v1h-1zM496 144h1v1h-1zM649 144h1v1h-1zM690 144h1v1h-1zM87 145h1v1h-1zM370 145h1v1h-1zM496 145h1v1h-1zM649 145h1v1h-1zM690 145h1v1h-1zM88 146h1v1h-1zM370 146h1v1h-1zM497 146h1v1h-1zM649 146h1v1h-1zM690 146h1v1h-1zM88 147h1v1h-1zM369 147h1v1h-1zM498 147h1v1h-1zM648 147h1v1h-1zM691 147h1v1h-1zM764 147h3v1h-3zM913 147h7v1h-7zM89 148h1v1h-1zM368 148h1v1h-1zM498 148h1v1h-1zM648 148h1v1h-1zM691 148h1v1h-1zM762 148h2v1h-2zM767 148h3v1h-3zM910 148h3v1h-3zM920 148h1v1h-1zM89 149h1v1h-1zM367 149h1v1h-1zM499 149h1v1h-1zM648 149h1v1h-1zM691 149h1v1h-1zM760 149h2v1h-2zM770 149h3v1h-3zM908 149h2v1h-2zM921 149h1v1h-1zM90 150h1v1h-1zM366 150h1v1h-1zM500 150h1v1h-1zM648 150h1v1h-1zM691 150h1v1h-1zM758 150h2v1h-2zM773 150h2v1h-2zM905 150h3v1h-3zM922 150h1v1h-1zM91 151h1v1h-1zM365 151h2v1h-2zM500 151h1v1h-1zM648 151h1v1h-1zM691 151h1v1h-1zM757 151h1v1h-1zM774 151h1v1h-1zM904 151h1v1h-1zM923 151h1v1h-1zM91 152h1v1h-1zM364 152h1v1h-1zM501 152h1v1h-1zM648 152h1v1h-1zM691 152h1v1h-1zM756 152h1v1h-1zM775 152h1v1h-1zM903 152h1v1h-1zM924 152h1v1h-1zM92 153h1v1h-1zM364 153h1v1h-1zM501 153h1v1h-1zM647 153h1v1h-1zM692 153h1v1h-1zM756 153h1v1h-1zM775 153h1v1h-1zM901 153h2v1h-2zM925 153h1v1h-1zM92 154h1v1h-1zM363 154h1v1h-1zM502 154h1v1h-1zM647 154h1v1h-1zM692 154h1v1h-1zM755 154h1v1h-1zM776 154h1v1h-1zM900 154h1v1h-1zM925 154h1v1h-1zM93 155h1v1h-1zM363 155h1v1h-1zM502 155h1v1h-1zM647 155h1v1h-1zM692 155h1v1h-1zM755 155h1v1h-1zM776 155h1v1h-1zM899 155h1v1h-1zM926 155h1v1h-1zM93 156h1v1h-1zM362 156h1v1h-1zM503 156h1v1h-1zM647 156h1v1h-1zM692 156h1v1h-1zM754 156h1v1h-1zM777 156h1v1h-1zM897 156h2v1h-2zM926 156h1v1h-1zM94 157h1v1h-1zM361 157h1v1h-1zM504 157h1v1h-1zM647 157h1v1h-1zM692 157h1v1h-1zM754 157h1v1h-1zM777 157h1v1h-1zM896 157h1v1h-1zM926 157h1v1h-1zM94 158h1v1h-1zM361 158h1v1h-1zM504 158h1v1h-1zM647 158h1v1h-1zM692 158h1v1h-1zM754 158h1v1h-1zM778 158h1v1h-1zM895 158h1v1h-1zM927 158h1v1h-1zM95 159h1v1h-1zM360 159h1v1h-1zM505 159h1v1h-1zM647 159h1v1h-1zM693 159h1v1h-1zM753 159h1v1h-1zM779 159h1v1h-1zM894 159h1v1h-1zM927 159h1v1h-1zM96 160h1v1h-1zM360 160h1v1h-1zM505 160h1v1h-1zM646 160h1v1h-1zM693 160h1v1h-1zM753 160h1v1h-1zM779 160h1v1h-1zM893 160h1v1h-1zM927 160h1v1h-1zM96 161h1v1h-1zM359 161h1v1h-1zM506 161h1v1h-1zM646 161h1v1h-1zM693 161h1v1h-1zM752 161h1v1h-1zM780 161h1v1h-1zM892 161h1v1h-1zM928 161h1v1h-1zM97 162h1v1h-1zM358 162h1v1h-1zM507 162h1v1h-1zM646 162h1v1h-1zM693 162h1v1h-1zM752 162h1v1h-1zM780 162h1v1h-1zM891 162h1v1h-1zM928 162h1v1h-1zM97 163h1v1h-1zM172 163h3v1h-3zM358 163h1v1h-1zM507 163h1v1h-1zM646 163h1v1h-1zM693 163h1v1h-1zM751 163h1v1h-1zM781 163h1v1h-1zM890 163h1v1h-1zM928 163h1v1h-1zM989 163h10v1h-10zM98 164h1v1h-1zM169 164h3v1h-3zM175 164h3v1h-3zM357 164h1v1h-1zM508 164h1v1h-1zM646 164h1v1h-1zM694 164h1v1h-1zM751 164h1v1h-1zM781 164h1v1h-1zM889 164h1v1h-1zM929 164h1v1h-1zM988 164h1v1h-1zM999 164h1v1h-1zM1053 164h1v1h-1zM98 165h1v1h-1zM166 165h3v1h-3zM178 165h4v1h-4zM293 165h2v1h-2zM357 165h1v1h-1zM508 165h1v1h-1zM646 165h1v1h-1zM694 165h1v1h-1zM750 165h1v1h-1zM782 165h1v1h-1zM888 165h1v1h-1zM929 165h1v1h-1zM986 165h2v1h-2zM1000 165h1v1h-1zM1048 165h6v1h-6zM99 166h1v1h-1zM163 166h3v1h-3zM182 166h6v1h-6zM291 166h2v1h-2zM295 166h3v1h-3zM356 166h1v1h-1zM509 166h1v1h-1zM645 166h1v1h-1zM694 166h1v1h-1zM750 166h1v1h-1zM782 166h1v1h-1zM887 166h1v1h-1zM929 166h2v1h-2zM985 166h1v1h-1zM1001 166h1v1h-1zM1046 166h2v1h-2zM1054 166h1v1h-1zM99 167h1v1h-1zM161 167h2v1h-2zM188 167h1v1h-1zM290 167h1v1h-1zM298 167h2v1h-2zM355 167h1v1h-1zM509 167h1v1h-1zM645 167h1v1h-1zM694 167h1v1h-1zM749 167h1v1h-1zM783 167h1v1h-1zM886 167h1v1h-1zM930 167h1v1h-1zM984 167h1v1h-1zM1002 167h1v1h-1zM1045 167h1v1h-1zM1055 167h1v1h-1zM100 168h1v1h-1zM160 168h2v1h-2zM189 168h1v1h-1zM288 168h2v1h-2zM300 168h2v1h-2zM355 168h1v1h-1zM510 168h1v1h-1zM645 168h1v1h-1zM694 168h1v1h-1zM749 168h1v1h-1zM783 168h1v1h-1zM885 168h1v1h-1zM931 168h1v1h-1zM982 168h2v1h-2zM1003 168h2v1h-2zM1039 168h6v1h-6zM1056 168h1v1h-1zM101 169h1v1h-1zM156 169h4v1h-4zM190 169h1v1h-1zM287 169h1v1h-1zM302 169h1v1h-1zM354 169h1v1h-1zM510 169h1v1h-1zM645 169h1v1h-1zM694 169h1v1h-1zM749 169h1v1h-1zM784 169h1v1h-1zM884 169h1v1h-1zM931 169h1v1h-1zM981 169h1v1h-1zM1005 169h1v1h-1zM1032 169h7v1h-7zM1056 169h2v1h-2zM101 170h1v1h-1zM151 170h5v1h-5zM190 170h2v1h-2zM286 170h2v1h-2zM303 170h1v1h-1zM354 170h1v1h-1zM510 170h1v1h-1zM645 170h1v1h-1zM695 170h1v1h-1zM748 170h1v1h-1zM784 170h1v1h-1zM883 170h1v1h-1zM931 170h1v1h-1zM980 170h1v1h-1zM1006 170h1v1h-1zM1025 170h7v1h-7zM1058 170h1v1h-1zM102 171h1v1h-1zM149 171h2v1h-2zM192 171h1v1h-1zM285 171h1v1h-1zM304 171h2v1h-2zM353 171h1v1h-1zM511 171h1v1h-1zM645 171h1v1h-1zM695 171h1v1h-1zM748 171h1v1h-1zM785 171h1v1h-1zM882 171h1v1h-1zM932 171h1v1h-1zM979 171h1v1h-1zM1007 171h2v1h-2zM1023 171h2v1h-2zM1059 171h1v1h-1zM103 172h2v1h-2zM146 172h3v1h-3zM193 172h1v1h-1zM283 172h2v1h-2zM306 172h1v1h-1zM353 172h1v1h-1zM511 172h1v1h-1zM644 172h1v1h-1zM695 172h1v1h-1zM747 172h1v1h-1zM785 172h1v1h-1zM881 172h1v1h-1zM932 172h1v1h-1zM979 172h1v1h-1zM1009 172h1v1h-1zM1021 172h2v1h-2zM1060 172h1v1h-1zM104 173h1v1h-1zM144 173h2v1h-2zM194 173h1v1h-1zM281 173h2v1h-2zM307 173h1v1h-1zM352 173h1v1h-1zM512 173h1v1h-1zM644 173h1v1h-1zM695 173h1v1h-1zM747 173h1v1h-1zM786 173h1v1h-1zM881 173h1v1h-1zM933 173h1v1h-1zM978 173h1v1h-1zM1010 173h1v1h-1zM1018 173h3v1h-3zM1061 173h1v1h-1zM1102 173h5v1h-5zM105 174h1v1h-1zM142 174h2v1h-2zM194 174h1v1h-1zM279 174h2v1h-2zM308 174h1v1h-1zM352 174h1v1h-1zM512 174h1v1h-1zM644 174h1v1h-1zM695 174h1v1h-1zM747 174h1v1h-1zM786 174h1v1h-1zM880 174h1v1h-1zM933 174h1v1h-1zM977 174h1v1h-1zM1011 174h2v1h-2zM1014 174h4v1h-4zM1062 174h2v1h-2zM1087 174h1v1h-1zM1097 174h5v1h-5zM1107 174h2v1h-2zM106 175h1v1h-1zM140 175h2v1h-2zM195 175h1v1h-1zM277 175h2v1h-2zM309 175h1v1h-1zM351 175h1v1h-1zM513 175h1v1h-1zM644 175h1v1h-1zM696 175h1v1h-1zM746 175h1v1h-1zM787 175h1v1h-1zM879 175h1v1h-1zM934 175h1v1h-1zM976 175h1v1h-1zM1013 175h1v1h-1zM1064 175h2v1h-2zM1082 175h5v1h-5zM1088 175h9v1h-9zM1109 175h2v1h-2zM107 176h1v1h-1zM138 176h2v1h-2zM196 176h1v1h-1zM275 176h3v1h-3zM310 176h1v1h-1zM351 176h1v1h-1zM513 176h1v1h-1zM644 176h1v1h-1zM696 176h1v1h-1zM746 176h1v1h-1zM788 176h1v1h-1zM878 176h1v1h-1zM934 176h1v1h-1zM976 176h1v1h-1zM1066 176h1v1h-1zM1079 176h3v1h-3zM1110 176h1v1h-1zM107 177h1v1h-1zM136 177h2v1h-2zM196 177h1v1h-1zM271 177h4v1h-4zM311 177h1v1h-1zM350 177h1v1h-1zM513 177h1v1h-1zM643 177h1v1h-1zM696 177h1v1h-1zM745 177h1v1h-1zM788 177h1v1h-1zM877 177h1v1h-1zM934 177h1v1h-1zM975 177h1v1h-1zM1067 177h12v1h-12zM1111 177h1v1h-1zM108 178h2v1h-2zM134 178h2v1h-2zM197 178h1v1h-1zM268 178h3v1h-3zM312 178h1v1h-1zM350 178h1v1h-1zM514 178h1v1h-1zM643 178h1v1h-1zM696 178h1v1h-1zM745 178h1v1h-1zM789 178h1v1h-1zM877 178h1v1h-1zM935 178h1v1h-1zM975 178h1v1h-1zM1112 178h1v1h-1zM110 179h2v1h-2zM125 179h9v1h-9zM198 179h1v1h-1zM265 179h3v1h-3zM313 179h1v1h-1zM349 179h1v1h-1zM514 179h2v1h-2zM643 179h1v1h-1zM696 179h1v1h-1zM745 179h1v1h-1zM790 179h1v1h-1zM876 179h1v1h-1zM935 179h1v1h-1zM974 179h1v1h-1zM1112 179h1v1h-1zM112 180h2v1h-2zM122 180h4v1h-4zM198 180h1v1h-1zM262 180h3v1h-3zM314 180h1v1h-1zM349 180h1v1h-1zM515 180h1v1h-1zM643 180h1v1h-1zM697 180h1v1h-1zM744 180h1v1h-1zM790 180h1v1h-1zM875 180h1v1h-1zM936 180h1v1h-1zM974 180h1v1h-1zM1113 180h1v1h-1zM114 181h1v1h-1zM119 181h3v1h-3zM199 181h1v1h-1zM258 181h4v1h-4zM315 181h1v1h-1zM348 181h1v1h-1zM516 181h1v1h-1zM643 181h1v1h-1zM697 181h1v1h-1zM744 181h1v1h-1zM791 181h1v1h-1zM874 181h1v1h-1zM936 181h1v1h-1zM973 181h1v1h-1zM1114 181h1v1h-1zM115 182h4v1h-4zM200 182h1v1h-1zM255 182h3v1h-3zM315 182h1v1h-1zM348 182h1v1h-1zM516 182h1v1h-1zM642 182h1v1h-1zM697 182h1v1h-1zM744 182h1v1h-1zM792 182h1v1h-1zM873 182h1v1h-1zM937 182h1v1h-1zM972 182h1v1h-1zM1114 182h1v1h-1zM201 183h1v1h-1zM254 183h1v1h-1zM316 183h2v1h-2zM347 183h1v1h-1zM516 183h1v1h-1zM642 183h1v1h-1zM697 183h1v1h-1zM743 183h1v1h-1zM792 183h1v1h-1zM872 183h1v1h-1zM937 183h1v1h-1zM972 183h1v1h-1zM1115 183h2v1h-2zM202 184h1v1h-1zM252 184h2v1h-2zM318 184h1v1h-1zM347 184h1v1h-1zM517 184h1v1h-1zM642 184h1v1h-1zM697 184h1v1h-1zM743 184h1v1h-1zM793 184h1v1h-1zM871 184h1v1h-1zM937 184h1v1h-1zM971 184h1v1h-1zM1116 184h1v1h-1zM202 185h1v1h-1zM250 185h2v1h-2zM319 185h1v1h-1zM346 185h1v1h-1zM517 185h1v1h-1zM642 185h1v1h-1zM698 185h1v1h-1zM742 185h1v1h-1zM794 185h1v1h-1zM870 185h1v1h-1zM938 185h1v1h-1zM971 185h1v1h-1zM1117 185h1v1h-1zM203 186h1v1h-1zM248 186h2v1h-2zM320 186h1v1h-1zM346 186h1v1h-1zM518 186h1v1h-1zM641 186h1v1h-1zM698 186h1v1h-1zM742 186h1v1h-1zM794 186h1v1h-1zM869 186h1v1h-1zM938 186h1v1h-1zM970 186h1v1h-1zM1118 186h1v1h-1zM204 187h1v1h-1zM247 187h1v1h-1zM321 187h1v1h-1zM345 187h1v1h-1zM518 187h1v1h-1zM641 187h1v1h-1zM698 187h1v1h-1zM742 187h1v1h-1zM795 187h1v1h-1zM868 187h1v1h-1zM939 187h2v1h-2zM970 187h1v1h-1zM1119 187h1v1h-1zM205 188h1v1h-1zM245 188h2v1h-2zM322 188h1v1h-1zM345 188h1v1h-1zM519 188h1v1h-1zM641 188h1v1h-1zM698 188h1v1h-1zM741 188h1v1h-1zM796 188h1v1h-1zM867 188h1v1h-1zM940 188h1v1h-1zM969 188h1v1h-1zM1119 188h1v1h-1zM206 189h1v1h-1zM244 189h1v1h-1zM322 189h1v1h-1zM344 189h1v1h-1zM519 189h1v1h-1zM641 189h1v1h-1zM698 189h1v1h-1zM741 189h1v1h-1zM797 189h1v1h-1zM866 189h1v1h-1zM941 189h1v1h-1zM969 189h1v1h-1zM1120 189h1v1h-1zM207 190h1v1h-1zM243 190h1v1h-1zM323 190h1v1h-1zM344 190h1v1h-1zM519 190h1v1h-1zM641 190h1v1h-1zM699 190h1v1h-1zM741 190h1v1h-1zM798 190h1v1h-1zM864 190h3v1h-3zM941 190h1v1h-1zM968 190h1v1h-1zM1120 190h1v1h-1zM208 191h1v1h-1zM241 191h2v1h-2zM324 191h2v1h-2zM342 191h2v1h-2zM520 191h1v1h-1zM640 191h1v1h-1zM699 191h1v1h-1zM740 191h1v1h-1zM799 191h1v1h-1zM860 191h4v1h-4zM942 191h1v1h-1zM968 191h1v1h-1zM1121 191h1v1h-1zM209 192h1v1h-1zM240 192h1v1h-1zM326 192h1v1h-1zM341 192h1v1h-1zM520 192h1v1h-1zM640 192h1v1h-1zM699 192h1v1h-1zM740 192h1v1h-1zM800 192h1v1h-1zM858 192h2v1h-2zM942 192h1v1h-1zM967 192h1v1h-1zM1122 192h1v1h-1zM210 193h1v1h-1zM239 193h1v1h-1zM327 193h1v1h-1zM340 193h1v1h-1zM520 193h1v1h-1zM640 193h1v1h-1zM699 193h1v1h-1zM740 193h1v1h-1zM801 193h1v1h-1zM857 193h1v1h-1zM943 193h1v1h-1zM967 193h1v1h-1zM1122 193h1v1h-1zM211 194h1v1h-1zM237 194h2v1h-2zM327 194h1v1h-1zM339 194h1v1h-1zM521 194h1v1h-1zM640 194h1v1h-1zM700 194h1v1h-1zM739 194h1v1h-1zM802 194h1v1h-1zM855 194h2v1h-2zM943 194h1v1h-1zM966 194h1v1h-1zM1123 194h1v1h-1zM212 195h1v1h-1zM234 195h3v1h-3zM328 195h1v1h-1zM338 195h2v1h-2zM521 195h1v1h-1zM640 195h1v1h-1zM700 195h1v1h-1zM739 195h1v1h-1zM803 195h1v1h-1zM854 195h1v1h-1zM944 195h1v1h-1zM966 195h1v1h-1zM1124 195h1v1h-1zM213 196h1v1h-1zM232 196h2v1h-2zM329 196h1v1h-1zM337 196h1v1h-1zM521 196h1v1h-1zM639 196h1v1h-1zM700 196h1v1h-1zM739 196h1v1h-1zM804 196h1v1h-1zM853 196h1v1h-1zM944 196h1v1h-1zM965 196h1v1h-1zM1125 196h1v1h-1zM214 197h2v1h-2zM229 197h3v1h-3zM330 197h1v1h-1zM336 197h1v1h-1zM521 197h1v1h-1zM639 197h1v1h-1zM700 197h1v1h-1zM739 197h1v1h-1zM805 197h1v1h-1zM852 197h1v1h-1zM945 197h1v1h-1zM965 197h1v1h-1zM1125 197h1v1h-1zM216 198h13v1h-13zM331 198h2v1h-2zM335 198h1v1h-1zM522 198h1v1h-1zM639 198h1v1h-1zM700 198h1v1h-1zM738 198h1v1h-1zM806 198h1v1h-1zM851 198h1v1h-1zM946 198h1v1h-1zM964 198h1v1h-1zM1126 198h1v1h-1zM333 199h2v1h-2zM522 199h1v1h-1zM639 199h1v1h-1zM701 199h1v1h-1zM738 199h1v1h-1zM807 199h1v1h-1zM850 199h1v1h-1zM946 199h1v1h-1zM964 199h1v1h-1zM1126 199h1v1h-1zM522 200h1v1h-1zM639 200h1v1h-1zM701 200h1v1h-1zM738 200h1v1h-1zM808 200h1v1h-1zM849 200h1v1h-1zM947 200h1v1h-1zM963 200h1v1h-1zM1127 200h1v1h-1zM523 201h1v1h-1zM638 201h1v1h-1zM701 201h1v1h-1zM738 201h1v1h-1zM809 201h1v1h-1zM848 201h1v1h-1zM948 201h2v1h-2zM963 201h1v1h-1zM1127 201h1v1h-1zM523 202h1v1h-1zM638 202h1v1h-1zM701 202h1v1h-1zM737 202h1v1h-1zM810 202h1v1h-1zM847 202h1v1h-1zM950 202h1v1h-1zM962 202h1v1h-1zM1128 202h1v1h-1zM523 203h1v1h-1zM638 203h1v1h-1zM701 203h1v1h-1zM737 203h1v1h-1zM810 203h1v1h-1zM831 203h16v1h-16zM951 203h1v1h-1zM961 203h1v1h-1zM1128 203h1v1h-1zM524 204h1v1h-1zM637 204h1v1h-1zM702 204h1v1h-1zM737 204h1v1h-1zM811 204h1v1h-1zM829 204h2v1h-2zM952 204h1v1h-1zM960 204h1v1h-1zM1129 204h1v1h-1zM524 205h1v1h-1zM637 205h1v1h-1zM702 205h1v1h-1zM737 205h1v1h-1zM812 205h1v1h-1zM827 205h2v1h-2zM953 205h2v1h-2zM959 205h1v1h-1zM1129 205h1v1h-1zM524 206h1v1h-1zM637 206h1v1h-1zM702 206h1v1h-1zM736 206h1v1h-1zM813 206h1v1h-1zM825 206h2v1h-2zM955 206h2v1h-2zM958 206h1v1h-1zM1130 206h1v1h-1zM525 207h1v1h-1zM636 207h1v1h-1zM703 207h1v1h-1zM736 207h1v1h-1zM813 207h1v1h-1zM824 207h1v1h-1zM957 207h1v1h-1zM1131 207h1v1h-1zM525 208h1v1h-1zM636 208h1v1h-1zM703 208h1v1h-1zM736 208h1v1h-1zM814 208h3v1h-3zM822 208h2v1h-2zM1132 208h1v1h-1zM525 209h1v1h-1zM636 209h1v1h-1zM703 209h1v1h-1zM735 209h1v1h-1zM817 209h3v1h-3zM821 209h1v1h-1zM1133 209h1v1h-1zM525 210h1v1h-1zM635 210h1v1h-1zM704 210h1v1h-1zM735 210h1v1h-1zM820 210h1v1h-1zM1134 210h1v1h-1zM526 211h1v1h-1zM635 211h1v1h-1zM704 211h1v1h-1zM735 211h1v1h-1zM1135 211h2v1h-2zM526 212h1v1h-1zM635 212h1v1h-1zM704 212h1v1h-1zM735 212h1v1h-1zM1137 212h1v1h-1zM526 213h2v1h-2zM634 213h2v1h-2zM705 213h1v1h-1zM734 213h1v1h-1zM1138 213h1v1h-1zM527 214h1v1h-1zM634 214h1v1h-1zM705 214h1v1h-1zM734 214h1v1h-1zM1139 214h1v1h-1zM528 215h1v1h-1zM634 215h1v1h-1zM705 215h1v1h-1zM734 215h1v1h-1zM1140 215h1v1h-1zM528 216h1v1h-1zM634 216h1v1h-1zM706 216h1v1h-1zM734 216h1v1h-1zM1140 216h2v1h-2zM528 217h1v1h-1zM634 217h1v1h-1zM706 217h1v1h-1zM733 217h1v1h-1zM1142 217h1v1h-1zM529 218h1v1h-1zM633 218h1v1h-1zM706 218h1v1h-1zM733 218h1v1h-1zM1143 218h1v1h-1zM529 219h1v1h-1zM633 219h1v1h-1zM707 219h1v1h-1zM733 219h1v1h-1zM1144 219h1v1h-1zM530 220h1v1h-1zM633 220h1v1h-1zM707 220h1v1h-1zM733 220h1v1h-1zM1145 220h1v1h-1zM530 221h1v1h-1zM633 221h1v1h-1zM708 221h1v1h-1zM732 221h1v1h-1zM1145 221h1v1h-1zM531 222h1v1h-1zM633 222h1v1h-1zM708 222h1v1h-1zM732 222h1v1h-1zM1146 222h1v1h-1zM531 223h1v1h-1zM633 223h1v1h-1zM708 223h1v1h-1zM731 223h1v1h-1zM1147 223h1v1h-1zM531 224h1v1h-1zM632 224h1v1h-1zM709 224h1v1h-1zM731 224h1v1h-1zM1148 224h2v1h-2zM532 225h1v1h-1zM632 225h1v1h-1zM709 225h1v1h-1zM731 225h1v1h-1zM1150 225h1v1h-1zM532 226h1v1h-1zM632 226h1v1h-1zM709 226h1v1h-1zM730 226h1v1h-1zM1151 226h2v1h-2zM533 227h1v1h-1zM632 227h1v1h-1zM710 227h1v1h-1zM730 227h1v1h-1zM1152 227h1v1h-1zM533 228h1v1h-1zM632 228h1v1h-1zM710 228h1v1h-1zM729 228h1v1h-1zM1153 228h2v1h-2zM533 229h1v1h-1zM632 229h1v1h-1zM710 229h1v1h-1zM729 229h1v1h-1zM1155 229h1v1h-1zM534 230h1v1h-1zM631 230h1v1h-1zM711 230h1v1h-1zM729 230h1v1h-1zM1156 230h2v1h-2zM534 231h1v1h-1zM631 231h1v1h-1zM711 231h1v1h-1zM728 231h1v1h-1zM1158 231h1v1h-1zM534 232h1v1h-1zM631 232h1v1h-1zM712 232h1v1h-1zM727 232h1v1h-1zM1159 232h2v1h-2zM535 233h1v1h-1zM631 233h1v1h-1zM712 233h1v1h-1zM727 233h1v1h-1zM1161 233h1v1h-1zM535 234h1v1h-1zM631 234h1v1h-1zM713 234h1v1h-1zM727 234h1v1h-1zM1162 234h1v1h-1zM536 235h1v1h-1zM631 235h1v1h-1zM713 235h1v1h-1zM726 235h1v1h-1zM1162 235h2v1h-2zM536 236h1v1h-1zM630 236h1v1h-1zM714 236h1v1h-1zM726 236h1v1h-1zM1164 236h2v1h-2zM536 237h1v1h-1zM630 237h1v1h-1zM714 237h1v1h-1zM725 237h1v1h-1zM1166 237h1v1h-1zM537 238h1v1h-1zM630 238h1v1h-1zM715 238h1v1h-1zM725 238h1v1h-1zM1167 238h2v1h-2zM537 239h1v1h-1zM630 239h1v1h-1zM716 239h1v1h-1zM723 239h2v1h-2zM1169 239h1v1h-1zM537 240h1v1h-1zM630 240h1v1h-1zM716 240h1v1h-1zM720 240h3v1h-3zM1170 240h2v1h-2zM538 241h1v1h-1zM630 241h1v1h-1zM717 241h3v1h-3zM1172 241h1v1h-1zM538 242h1v1h-1zM629 242h1v1h-1zM717 242h1v1h-1zM538 243h1v1h-1zM629 243h1v1h-1zM539 244h1v1h-1zM629 244h1v1h-1zM539 245h1v1h-1zM629 245h1v1h-1zM539 246h1v1h-1zM629 246h1v1h-1zM540 247h1v1h-1zM629 247h1v1h-1zM540 248h1v1h-1zM628 248h1v1h-1zM540 249h1v1h-1zM628 249h1v1h-1zM541 250h1v1h-1zM628 250h1v1h-1zM541 251h1v1h-1zM628 251h1v1h-1zM541 252h1v1h-1zM627 252h1v1h-1zM542 253h1v1h-1zM627 253h1v1h-1zM542 254h1v1h-1zM627 254h1v1h-1zM542 255h1v1h-1zM626 255h1v1h-1zM542 256h1v1h-1zM626 256h1v1h-1zM542 257h1v1h-1zM626 257h1v1h-1zM543 258h1v1h-1zM626 258h1v1h-1zM543 259h1v1h-1zM625 259h1v1h-1zM543 260h1v1h-1zM625 260h1v1h-1zM543 261h1v1h-1zM625 261h1v1h-1zM544 262h1v1h-1zM625 262h1v1h-1zM544 263h1v1h-1zM624 263h1v1h-1zM544 264h1v1h-1zM624 264h1v1h-1zM544 265h1v1h-1zM624 265h1v1h-1zM545 266h1v1h-1zM623 266h1v1h-1zM545 267h1v1h-1zM623 267h1v1h-1zM545 268h1v1h-1zM623 268h1v1h-1zM545 269h1v1h-1zM623 269h1v1h-1zM545 270h1v1h-1zM622 270h1v1h-1zM546 271h1v1h-1zM622 271h1v1h-1zM546 272h1v1h-1zM621 272h1v1h-1zM546 273h1v1h-1zM621 273h1v1h-1zM546 274h1v1h-1zM621 274h1v1h-1zM547 275h1v1h-1zM621 275h1v1h-1zM547 276h1v1h-1zM620 276h1v1h-1zM547 277h1v1h-1zM620 277h1v1h-1zM547 278h1v1h-1zM620 278h1v1h-1zM548 279h1v1h-1zM619 279h1v1h-1zM548 280h1v1h-1zM619 280h1v1h-1zM548 281h1v1h-1zM619 281h1v1h-1zM548 282h1v1h-1zM618 282h1v1h-1zM549 283h1v1h-1zM618 283h1v1h-1zM549 284h1v1h-1zM618 284h1v1h-1zM549 285h1v1h-1zM617 285h1v1h-1zM549 286h2v1h-2zM617 286h1v1h-1zM550 287h1v1h-1zM617 287h1v1h-1zM550 288h1v1h-1zM616 288h1v1h-1zM550 289h1v1h-1zM616 289h1v1h-1zM551 290h1v1h-1zM616 290h1v1h-1zM551 291h1v1h-1zM615 291h1v1h-1zM551 292h1v1h-1zM615 292h1v1h-1zM551 293h1v1h-1zM615 293h1v1h-1zM552 294h1v1h-1zM614 294h1v1h-1zM552 295h1v1h-1zM614 295h1v1h-1zM552 296h1v1h-1zM613 296h1v1h-1zM552 297h1v1h-1zM613 297h1v1h-1zM553 298h1v1h-1zM613 298h1v1h-1zM553 299h1v1h-1zM612 299h1v1h-1zM553 300h1v1h-1zM612 300h1v1h-1zM553 301h1v1h-1zM612 301h1v1h-1zM554 302h1v1h-1zM611 302h1v1h-1zM554 303h1v1h-1zM611 303h1v1h-1zM554 304h1v1h-1zM611 304h1v1h-1zM554 305h1v1h-1zM610 305h1v1h-1zM555 306h1v1h-1zM610 306h1v1h-1zM555 307h1v1h-1zM609 307h1v1h-1zM555 308h1v1h-1zM609 308h1v1h-1zM555 309h1v1h-1zM609 309h1v1h-1zM556 310h1v1h-1zM608 310h1v1h-1zM556 311h1v1h-1zM608 311h1v1h-1zM556 312h1v1h-1zM608 312h1v1h-1zM556 313h1v1h-1zM607 313h1v1h-1zM557 314h1v1h-1zM607 314h1v1h-1zM557 315h1v1h-1zM607 315h1v1h-1zM557 316h1v1h-1zM606 316h1v1h-1zM557 317h1v1h-1zM606 317h1v1h-1zM558 318h1v1h-1zM606 318h1v1h-1zM558 319h1v1h-1zM606 319h1v1h-1zM558 320h1v1h-1zM605 320h1v1h-1zM558 321h1v1h-1zM605 321h1v1h-1zM559 322h1v1h-1zM605 322h1v1h-1zM559 323h1v1h-1zM604 323h1v1h-1zM559 324h1v1h-1zM604 324h1v1h-1zM559 325h1v1h-1zM604 325h1v1h-1zM559 326h1v1h-1zM604 326h1v1h-1zM560 327h1v1h-1zM603 327h1v1h-1zM560 328h1v1h-1zM603 328h1v1h-1zM560 329h1v1h-1zM603 329h1v1h-1zM560 330h1v1h-1zM603 330h1v1h-1zM561 331h1v1h-1zM602 331h1v1h-1zM561 332h1v1h-1zM602 332h1v1h-1zM561 333h1v1h-1zM602 333h1v1h-1zM561 334h1v1h-1zM602 334h1v1h-1zM562 335h1v1h-1zM601 335h1v1h-1zM562 336h1v1h-1zM601 336h1v1h-1zM562 337h1v1h-1zM601 337h1v1h-1zM562 338h1v1h-1zM601 338h1v1h-1zM563 339h1v1h-1zM600 339h1v1h-1zM563 340h1v1h-1zM600 340h1v1h-1zM563 341h1v1h-1zM600 341h1v1h-1zM563 342h1v1h-1zM600 342h1v1h-1zM564 343h1v1h-1zM599 343h1v1h-1zM564 344h1v1h-1zM599 344h1v1h-1zM564 345h1v1h-1zM599 345h1v1h-1zM564 346h1v1h-1zM599 346h1v1h-1zM565 347h1v1h-1zM598 347h1v1h-1zM565 348h1v1h-1zM598 348h1v1h-1zM565 349h1v1h-1zM597 349h2v1h-2zM565 350h1v1h-1zM597 350h1v1h-1zM566 351h1v1h-1zM597 351h1v1h-1zM566 352h1v1h-1zM596 352h1v1h-1zM566 353h1v1h-1zM596 353h1v1h-1zM566 354h1v1h-1zM596 354h1v1h-1zM567 355h1v1h-1zM595 355h1v1h-1zM567 356h1v1h-1zM595 356h1v1h-1zM567 357h1v1h-1zM595 357h1v1h-1zM568 358h1v1h-1zM594 358h1v1h-1zM568 359h1v1h-1zM594 359h1v1h-1zM568 360h1v1h-1zM594 360h1v1h-1zM568 361h1v1h-1zM593 361h1v1h-1zM568 362h1v1h-1zM593 362h1v1h-1zM569 363h1v1h-1zM593 363h1v1h-1zM569 364h1v1h-1zM592 364h1v1h-1zM569 365h1v1h-1zM592 365h1v1h-1zM569 366h1v1h-1zM592 366h1v1h-1zM570 367h1v1h-1zM591 367h1v1h-1zM570 368h1v1h-1zM591 368h1v1h-1zM570 369h1v1h-1zM591 369h1v1h-1zM570 370h1v1h-1zM590 370h1v1h-1zM571 371h1v1h-1zM590 371h1v1h-1zM571 372h1v1h-1zM590 372h1v1h-1zM571 373h1v1h-1zM589 373h1v1h-1zM571 374h1v1h-1zM589 374h1v1h-1zM572 375h1v1h-1zM589 375h1v1h-1zM572 376h1v1h-1zM588 376h1v1h-1zM572 377h1v1h-1zM588 377h1v1h-1zM572 378h1v1h-1zM587 378h1v1h-1zM573 379h1v1h-1zM587 379h1v1h-1zM573 380h1v1h-1zM586 380h1v1h-1zM574 381h1v1h-1zM586 381h1v1h-1zM575 382h1v1h-1zM585 382h1v1h-1zM575 383h1v1h-1zM585 383h1v1h-1zM576 384h1v1h-1zM584 384h1v1h-1zM576 385h1v1h-1zM584 385h1v1h-1zM577 386h1v1h-1zM583 386h1v1h-1zM578 387h1v1h-1zM583 387h1v1h-1zM578 388h1v1h-1zM583 388h1v1h-1zM579 389h1v1h-1zM582 389h1v1h-1zM579 390h1v1h-1zM582 390h1v1h-1zM580 391h2v1h-2zM581 392h1v1h-1z"/>
</g>
<g shape-rendering="crispEdges">
<rect x="5" y="52" width="1484" height="2" fill="#ff0000"/>
<rect x="5" y="113" width="1484" height="2" fill="#ff0000"/>
<rect x="5" y="187" width="1484" height="2" fill="#00ff00"/>
<rect x="5" y="258" width="1484" height="2" fill="#0000ff"/>
<rect x="5" y="334" width="1484" height="2" fill="#0000ff"/>
</g>
<g shape-rendering="crispEdges">
<line x1="6" x2="1489" y1="536.5" y2="536.5" stroke="#c0c0c0" stroke-width="1" stroke-dasharray="3 3"/>
<line x1="6" x2="1489" y1="570.5" y2="570.5" stroke="#c0c0c0" stroke-width="1" stroke-dasharray="3 3"/>
<path fill="#1e90ff" d="M437 536h1v1h-1zM435 537h2v1h-2zM438 537h2v1h-2zM433 538h2v1h-2zM440 538h2v1h-2zM651 538h3v1h-3zM410 539h15v1h-15zM431 539h2v1h-2zM442 539h2v1h-2zM645 539h6v1h-6zM654 539h2v1h-2zM405 540h5v1h-5zM425 540h6v1h-6zM444 540h2v1h-2zM639 540h6v1h-6zM656 540h2v1h-2zM402 541h3v1h-3zM445 541h1v1h-1zM636 541h3v1h-3zM658 541h1v1h-1zM400 542h2v1h-2zM446 542h1v1h-1zM633 542h3v1h-3zM659 542h2v1h-2zM397 543h3v1h-3zM447 543h1v1h-1zM631 543h2v1h-2zM661 543h5v1h-5zM394 544h3v1h-3zM448 544h1v1h-1zM629 544h2v1h-2zM666 544h6v1h-6zM361 545h24v1h-24zM391 545h3v1h-3zM449 545h1v1h-1zM627 545h2v1h-2zM672 545h6v1h-6zM893 545h10v1h-10zM354 546h7v1h-7zM385 546h6v1h-6zM450 546h1v1h-1zM625 546h2v1h-2zM677 546h1v1h-1zM741 546h3v1h-3zM884 546h9v1h-9zM903 546h9v1h-9zM349 547h5v1h-5zM451 547h1v1h-1zM624 547h1v1h-1zM678 547h1v1h-1zM738 547h3v1h-3zM744 547h14v1h-14zM880 547h4v1h-4zM912 547h5v1h-5zM291 548h3v1h-3zM346 548h3v1h-3zM452 548h1v1h-1zM622 548h2v1h-2zM679 548h1v1h-1zM736 548h2v1h-2zM758 548h3v1h-3zM875 548h5v1h-5zM917 548h9v1h-9zM962 548h11v1h-11zM286 549h5v1h-5zM293 549h1v1h-1zM343 549h3v1h-3zM453 549h5v1h-5zM621 549h1v1h-1zM680 549h1v1h-1zM733 549h3v1h-3zM761 549h2v1h-2zM871 549h4v1h-4zM926 549h1v1h-1zM957 549h5v1h-5zM973 549h2v1h-2zM284 550h2v1h-2zM294 550h1v1h-1zM341 550h2v1h-2zM458 550h13v1h-13zM620 550h1v1h-1zM681 550h1v1h-1zM730 550h3v1h-3zM763 550h2v1h-2zM866 550h5v1h-5zM927 550h1v1h-1zM956 550h1v1h-1zM975 550h2v1h-2zM996 550h2v1h-2zM1019 550h14v1h-14zM1052 550h2v1h-2zM283 551h1v1h-1zM295 551h1v1h-1zM339 551h2v1h-2zM471 551h3v1h-3zM619 551h1v1h-1zM681 551h1v1h-1zM727 551h3v1h-3zM765 551h9v1h-9zM828 551h4v1h-4zM860 551h6v1h-6zM927 551h1v1h-1zM955 551h1v1h-1zM977 551h2v1h-2zM992 551h4v1h-4zM998 551h2v1h-2zM1015 551h4v1h-4zM1033 551h6v1h-6zM1049 551h3v1h-3zM1053 551h1v1h-1zM1075 551h14v1h-14zM282 552h1v1h-1zM296 552h1v1h-1zM337 552h2v1h-2zM474 552h3v1h-3zM480 552h6v1h-6zM619 552h1v1h-1zM682 552h1v1h-1zM723 552h4v1h-4zM774 552h2v1h-2zM826 552h2v1h-2zM832 552h2v1h-2zM855 552h5v1h-5zM928 552h1v1h-1zM954 552h1v1h-1zM979 552h2v1h-2zM984 552h8v1h-8zM1000 552h1v1h-1zM1012 552h3v1h-3zM1039 552h5v1h-5zM1046 552h3v1h-3zM1054 552h1v1h-1zM1070 552h5v1h-5zM1089 552h5v1h-5zM281 553h1v1h-1zM297 553h1v1h-1zM335 553h2v1h-2zM477 553h3v1h-3zM485 553h1v1h-1zM618 553h1v1h-1zM683 553h1v1h-1zM719 553h4v1h-4zM776 553h2v1h-2zM802 553h5v1h-5zM824 553h2v1h-2zM834 553h3v1h-3zM840 553h15v1h-15zM929 553h1v1h-1zM953 553h1v1h-1zM981 553h3v1h-3zM1001 553h2v1h-2zM1010 553h2v1h-2zM1044 553h2v1h-2zM1055 553h1v1h-1zM1068 553h2v1h-2zM1094 553h2v1h-2zM280 554h1v1h-1zM297 554h1v1h-1zM334 554h1v1h-1zM486 554h1v1h-1zM617 554h1v1h-1zM684 554h1v1h-1zM715 554h4v1h-4zM778 554h2v1h-2zM799 554h3v1h-3zM807 554h1v1h-1zM822 554h2v1h-2zM837 554h3v1h-3zM930 554h1v1h-1zM952 554h1v1h-1zM1003 554h2v1h-2zM1007 554h3v1h-3zM1056 554h2v1h-2zM1067 554h1v1h-1zM1096 554h1v1h-1zM1108 554h2v1h-2zM260 555h12v1h-12zM279 555h1v1h-1zM298 555h1v1h-1zM332 555h2v1h-2zM487 555h1v1h-1zM604 555h2v1h-2zM617 555h1v1h-1zM685 555h3v1h-3zM712 555h3v1h-3zM780 555h19v1h-19zM808 555h2v1h-2zM819 555h3v1h-3zM930 555h1v1h-1zM951 555h1v1h-1zM1005 555h2v1h-2zM1057 555h1v1h-1zM1066 555h1v1h-1zM1097 555h2v1h-2zM1106 555h2v1h-2zM1110 555h2v1h-2zM258 556h2v1h-2zM272 556h5v1h-5zM278 556h1v1h-1zM299 556h1v1h-1zM331 556h1v1h-1zM487 556h1v1h-1zM599 556h5v1h-5zM606 556h2v1h-2zM616 556h1v1h-1zM688 556h2v1h-2zM709 556h3v1h-3zM810 556h1v1h-1zM817 556h2v1h-2zM931 556h1v1h-1zM950 556h1v1h-1zM1058 556h1v1h-1zM1065 556h1v1h-1zM1099 556h1v1h-1zM1103 556h3v1h-3zM1112 556h1v1h-1zM244 557h6v1h-6zM255 557h3v1h-3zM277 557h1v1h-1zM300 557h1v1h-1zM329 557h2v1h-2zM488 557h1v1h-1zM589 557h10v1h-10zM608 557h1v1h-1zM615 557h1v1h-1zM690 557h2v1h-2zM707 557h2v1h-2zM811 557h2v1h-2zM815 557h2v1h-2zM932 557h1v1h-1zM949 557h1v1h-1zM1059 557h1v1h-1zM1063 557h2v1h-2zM1100 557h3v1h-3zM1113 557h2v1h-2zM162 558h12v1h-12zM242 558h2v1h-2zM250 558h5v1h-5zM301 558h1v1h-1zM328 558h1v1h-1zM489 558h1v1h-1zM588 558h1v1h-1zM609 558h1v1h-1zM615 558h1v1h-1zM692 558h4v1h-4zM705 558h2v1h-2zM813 558h2v1h-2zM933 558h2v1h-2zM948 558h2v1h-2zM1060 558h1v1h-1zM1062 558h1v1h-1zM1115 558h2v1h-2zM157 559h5v1h-5zM174 559h3v1h-3zM228 559h5v1h-5zM240 559h2v1h-2zM302 559h2v1h-2zM326 559h2v1h-2zM489 559h1v1h-1zM588 559h1v1h-1zM610 559h2v1h-2zM614 559h1v1h-1zM696 559h4v1h-4zM702 559h3v1h-3zM935 559h2v1h-2zM946 559h2v1h-2zM1061 559h1v1h-1zM1117 559h3v1h-3zM27 560h9v1h-9zM60 560h3v1h-3zM155 560h2v1h-2zM177 560h3v1h-3zM225 560h3v1h-3zM233 560h4v1h-4zM238 560h2v1h-2zM304 560h2v1h-2zM324 560h2v1h-2zM490 560h1v1h-1zM587 560h1v1h-1zM612 560h2v1h-2zM700 560h2v1h-2zM937 560h2v1h-2zM944 560h2v1h-2zM1120 560h4v1h-4zM1147 560h7v1h-7zM23 561h4v1h-4zM36 561h5v1h-5zM58 561h2v1h-2zM63 561h1v1h-1zM154 561h1v1h-1zM180 561h2v1h-2zM223 561h2v1h-2zM237 561h1v1h-1zM306 561h1v1h-1zM322 561h2v1h-2zM491 561h1v1h-1zM587 561h1v1h-1zM613 561h1v1h-1zM939 561h2v1h-2zM942 561h2v1h-2zM1124 561h14v1h-14zM1144 561h3v1h-3zM1154 561h4v1h-4zM21 562h2v1h-2zM41 562h4v1h-4zM56 562h2v1h-2zM64 562h1v1h-1zM140 562h4v1h-4zM152 562h2v1h-2zM182 562h3v1h-3zM213 562h10v1h-10zM307 562h2v1h-2zM320 562h2v1h-2zM491 562h1v1h-1zM586 562h1v1h-1zM941 562h1v1h-1zM1138 562h6v1h-6zM1158 562h2v1h-2zM19 563h2v1h-2zM45 563h5v1h-5zM54 563h2v1h-2zM65 563h1v1h-1zM139 563h1v1h-1zM144 563h4v1h-4zM150 563h2v1h-2zM185 563h2v1h-2zM212 563h1v1h-1zM309 563h5v1h-5zM318 563h2v1h-2zM492 563h1v1h-1zM586 563h1v1h-1zM1160 563h2v1h-2zM18 564h1v1h-1zM50 564h4v1h-4zM66 564h1v1h-1zM124 564h3v1h-3zM138 564h1v1h-1zM148 564h2v1h-2zM187 564h2v1h-2zM211 564h1v1h-1zM314 564h4v1h-4zM493 564h4v1h-4zM585 564h1v1h-1zM1162 564h2v1h-2zM5 565h3v1h-3zM17 565h1v1h-1zM67 565h1v1h-1zM121 565h3v1h-3zM127 565h2v1h-2zM136 565h2v1h-2zM189 565h3v1h-3zM210 565h1v1h-1zM497 565h3v1h-3zM585 565h1v1h-1zM1164 565h1v1h-1zM8 566h2v1h-2zM15 566h2v1h-2zM68 566h1v1h-1zM119 566h2v1h-2zM129 566h2v1h-2zM135 566h1v1h-1zM192 566h3v1h-3zM208 566h2v1h-2zM500 566h3v1h-3zM584 566h1v1h-1zM1165 566h6v1h-6zM10 567h3v1h-3zM14 567h1v1h-1zM69 567h4v1h-4zM117 567h2v1h-2zM131 567h2v1h-2zM134 567h1v1h-1zM195 567h3v1h-3zM207 567h1v1h-1zM503 567h3v1h-3zM584 567h1v1h-1zM1171 567h2v1h-2zM13 568h1v1h-1zM73 568h3v1h-3zM114 568h3v1h-3zM133 568h1v1h-1zM198 568h4v1h-4zM206 568h1v1h-1zM506 568h2v1h-2zM583 568h1v1h-1zM76 569h3v1h-3zM112 569h2v1h-2zM202 569h4v1h-4zM508 569h2v1h-2zM583 569h1v1h-1zM79 570h2v1h-2zM110 570h2v1h-2zM510 570h2v1h-2zM582 570h1v1h-1zM81 571h2v1h-2zM107 571h3v1h-3zM512 571h2v1h-2zM582 571h1v1h-1zM83 572h2v1h-2zM105 572h2v1h-2zM514 572h1v1h-1zM581 572h1v1h-1zM85 573h14v1h-14zM102 573h3v1h-3zM515 573h2v1h-2zM581 573h1v1h-1zM99 574h3v1h-3zM517 574h3v1h-3zM580 574h1v1h-1zM520 575h2v1h-2zM579 575h1v1h-1zM522 576h3v1h-3zM578 576h1v1h-1zM525 577h11v1h-11zM577 577h1v1h-1zM536 578h4v1h-4zM576 578h1v1h-1zM540 579h3v1h-3zM575 579h1v1h-1zM543 580h3v1h-3zM574 580h1v1h-1zM546 581h2v1h-2zM573 581h1v1h-1zM548 582h3v1h-3zM571 582h3v1h-3zM551 583h3v1h-3zM569 583h2v1h-2zM554 584h3v1h-3zM567 584h2v1h-2zM557 585h10v1h-10z"/>
<path fill="#c0c0c0" d="M5 628v9h1v-9zM13 628v16h1v-16zM21 628v15h1v-15zM29 628v15h1v-15zM37 628v14h1v-14zM45 628v14h1v-14zM53 628v14h1v-14zM61 628v14h1v-14zM69 628v15h1v-15zM77 628v17h1v-17zM85 628v19h1v-19zM93 628v22h1v-22zM101 628v23h1v-23zM109 628v24h1v-24zM117 628v24h1v-24zM125 628v23h1v-23zM133 628v23h1v-23zM141 628v21h1v-21zM149 628v20h1v-20zM157 628v19h1v-19zM165 628v18h1v-18zM173 628v17h1v-17zM181 628v16h1v-16zM189 628v16h1v-16zM197 628v17h1v-17zM205 628v17h1v-17zM213 628v17h1v-17zM221 628v16h1v-16zM229 628v15h1v-15zM237 628v14h1v-14zM245 628v13h1v-13zM253 628v12h1v-12zM261 628v11h1v-11zM269 628v10h1v-10zM277 628v9h1v-9zM285 628v6h1v-6zM293 628v4h1v-4zM301 628v5h1v-5zM309 628v7h1v-7zM317 628v8h1v-8zM325 628v8h1v-8zM333 628v7h1v-7zM341 628v5h1v-5zM349 628v2h1v-2zM365 627v2h1v-2zM373 625v4h1v-4zM381 624v5h1v-5zM389 623v6h1v-6zM397 621v8h1v-8zM405 619v10h1v-10zM413 618v11h1v-11zM421 616v13h1v-13zM429 616v13h1v-13zM437 615v14h1v-14zM445 614v15h1v-15zM453 616v13h1v-13zM461 617v12h1v-12zM469 619v10h1v-10zM477 620v9h1v-9zM485 621v8h1v-8zM493 625v4h1v-4zM509 628v4h1v-4zM517 628v9h1v-9zM525 628v14h1v-14zM533 628v19h1v-19zM541 628v24h1v-24zM549 628v33h1v-33zM557 628v39h1v-39zM565 628v46h1v-46zM573 628v50h1v-50zM581 628v51h1v-51zM589 628v44h1v-44zM597 628v40h1v-40zM605 628v35h1v-35zM613 628v34h1v-34zM621 628v25h1v-25zM629 628v16h1v-16zM637 628v3h1v-3zM645 621v8h1v-8zM653 612v17h1v-17zM661 608v21h1v-21zM669 605v24h1v-24zM677 604v25h1v-25zM685 609v20h1v-20zM693 617v12h1v-12zM701 624v5h1v-5zM709 627v2h1v-2zM725 627v2h1v-2zM733 624v5h1v-5zM741 621v8h1v-8zM749 618v11h1v-11zM757 616v13h1v-13zM765 617v12h1v-12zM773 618v11h1v-11zM781 621v8h1v-8zM789 623v6h1v-6zM797 625v4h1v-4zM805 626v3h1v-3zM821 628v1h1v-1zM877 625v4h1v-4zM885 623v6h1v-6zM893 621v8h1v-8zM901 620v9h1v-9zM909 619v10h1v-10zM917 619v10h1v-10zM925 622v7h1v-7zM949 628v1h1v-1zM957 625v4h1v-4zM965 624v5h1v-5zM973 623v6h1v-6zM981 624v5h1v-5zM989 625v4h1v-4zM997 625v4h1v-4zM1005 626v3h1v-3zM1013 626v3h1v-3zM1021 625v4h1v-4zM1029 625v4h1v-4zM1037 624v5h1v-5zM1045 625v4h1v-4zM1053 625v4h1v-4zM1061 627v2h1v-2zM1077 626v3h1v-3zM1085 626v3h1v-3zM1093 626v3h1v-3zM1101 627v2h1v-2zM1117 628v2h1v-2zM1125 628v4h1v-4zM1133 628v7h1v-7zM1141 628v8h1v-8zM1149 628v9h1v-9zM1157 628v10h1v-10zM1165 628v12h1v-12zM1173 628v15h1v-15z"/>
<path fill="#ff0000" d="M707 613h3v1h-3zM701 614h3v1h-3zM713 614h3v1h-3zM695 615h3v1h-3zM719 615h3v1h-3zM457 616h1v1h-1zM461 616h3v1h-3zM467 616h3v1h-3zM473 616h3v1h-3zM479 616h3v1h-3zM485 616h3v1h-3zM725 616h3v1h-3zM443 617h3v1h-3zM449 617h3v1h-3zM455 617h2v1h-2zM491 617h3v1h-3zM690 617h2v1h-2zM731 617h3v1h-3zM737 617h1v1h-1zM438 618h2v1h-2zM497 618h3v1h-3zM689 618h1v1h-1zM738 618h2v1h-2zM432 619h2v1h-2zM437 619h1v1h-1zM503 619h3v1h-3zM743 619h2v1h-2zM793 619h1v1h-1zM797 619h3v1h-3zM803 619h3v1h-3zM425 620h3v1h-3zM431 620h1v1h-1zM685 620h1v1h-1zM745 620h1v1h-1zM779 620h3v1h-3zM785 620h3v1h-3zM791 620h2v1h-2zM809 620h3v1h-3zM420 621h2v1h-2zM509 621h3v1h-3zM683 621h2v1h-2zM749 621h3v1h-3zM755 621h3v1h-3zM761 621h3v1h-3zM767 621h3v1h-3zM773 621h3v1h-3zM815 621h3v1h-3zM929 621h3v1h-3zM935 621h3v1h-3zM941 621h3v1h-3zM419 622h1v1h-1zM515 622h1v1h-1zM821 622h3v1h-3zM923 622h3v1h-3zM947 622h3v1h-3zM953 622h3v1h-3zM959 622h2v1h-2zM413 623h3v1h-3zM516 623h2v1h-2zM827 623h3v1h-3zM912 623h2v1h-2zM917 623h3v1h-3zM961 623h1v1h-1zM965 623h3v1h-3zM408 624h2v1h-2zM678 624h2v1h-2zM833 624h2v1h-2zM905 624h3v1h-3zM911 624h1v1h-1zM971 624h3v1h-3zM1037 624h3v1h-3zM407 625h1v1h-1zM521 625h2v1h-2zM677 625h1v1h-1zM835 625h1v1h-1zM839 625h2v1h-2zM895 625h1v1h-1zM899 625h3v1h-3zM977 625h3v1h-3zM983 625h3v1h-3zM1019 625h3v1h-3zM1025 625h3v1h-3zM1031 625h3v1h-3zM1043 625h3v1h-3zM1049 625h3v1h-3zM1055 625h3v1h-3zM1061 625h3v1h-3zM1067 625h3v1h-3zM1073 625h3v1h-3zM1079 625h3v1h-3zM1085 625h3v1h-3zM1091 625h3v1h-3zM1097 625h1v1h-1zM401 626h3v1h-3zM523 626h1v1h-1zM841 626h1v1h-1zM845 626h3v1h-3zM888 626h2v1h-2zM893 626h2v1h-2zM989 626h3v1h-3zM995 626h3v1h-3zM1001 626h3v1h-3zM1007 626h3v1h-3zM1013 626h3v1h-3zM1098 626h2v1h-2zM1103 626h3v1h-3zM1109 626h3v1h-3zM396 627h2v1h-2zM527 627h1v1h-1zM851 627h3v1h-3zM857 627h3v1h-3zM863 627h3v1h-3zM869 627h3v1h-3zM875 627h3v1h-3zM881 627h3v1h-3zM887 627h1v1h-1zM1115 627h3v1h-3zM1121 627h1v1h-1zM395 628h1v1h-1zM528 628h2v1h-2zM673 628h1v1h-1zM1122 628h2v1h-2zM1127 628h3v1h-3zM1133 628h3v1h-3zM391 629h1v1h-1zM672 629h1v1h-1zM1139 629h2v1h-2zM384 630h2v1h-2zM389 630h2v1h-2zM533 630h2v1h-2zM671 630h1v1h-1zM1141 630h1v1h-1zM1145 630h2v1h-2zM377 631h3v1h-3zM383 631h1v1h-1zM535 631h1v1h-1zM1147 631h1v1h-1zM1151 631h3v1h-3zM371 632h3v1h-3zM1157 632h3v1h-3zM360 633h2v1h-2zM365 633h3v1h-3zM539 633h2v1h-2zM1163 633h2v1h-2zM347 634h3v1h-3zM353 634h3v1h-3zM359 634h1v1h-1zM541 634h1v1h-1zM666 634h2v1h-2zM1165 634h1v1h-1zM1169 634h1v1h-1zM329 635h3v1h-3zM335 635h3v1h-3zM341 635h3v1h-3zM665 635h1v1h-1zM1170 635h2v1h-2zM312 636h2v1h-2zM317 636h3v1h-3zM323 636h3v1h-3zM545 636h1v1h-1zM5 637h3v1h-3zM305 637h3v1h-3zM311 637h1v1h-1zM546 637h2v1h-2zM11 638h3v1h-3zM299 638h3v1h-3zM17 639h3v1h-3zM23 639h3v1h-3zM289 639h1v1h-1zM293 639h3v1h-3zM661 639h1v1h-1zM29 640h3v1h-3zM287 640h2v1h-2zM551 640h1v1h-1zM660 640h1v1h-1zM35 641h3v1h-3zM41 641h1v1h-1zM281 641h3v1h-3zM552 641h2v1h-2zM659 641h1v1h-1zM42 642h2v1h-2zM47 642h3v1h-3zM53 642h3v1h-3zM59 642h3v1h-3zM275 642h3v1h-3zM65 643h3v1h-3zM71 643h3v1h-3zM77 643h3v1h-3zM264 643h2v1h-2zM269 643h3v1h-3zM83 644h3v1h-3zM89 644h3v1h-3zM95 644h3v1h-3zM246 644h2v1h-2zM251 644h3v1h-3zM257 644h3v1h-3zM263 644h1v1h-1zM557 644h2v1h-2zM101 645h3v1h-3zM215 645h3v1h-3zM221 645h3v1h-3zM227 645h3v1h-3zM233 645h3v1h-3zM239 645h3v1h-3zM245 645h1v1h-1zM559 645h1v1h-1zM655 645h1v1h-1zM107 646h1v1h-1zM198 646h2v1h-2zM203 646h3v1h-3zM209 646h3v1h-3zM654 646h1v1h-1zM108 647h2v1h-2zM193 647h1v1h-1zM197 647h1v1h-1zM563 647h1v1h-1zM653 647h1v1h-1zM113 648h3v1h-3zM119 648h2v1h-2zM186 648h2v1h-2zM191 648h2v1h-2zM564 648h1v1h-1zM121 649h1v1h-1zM125 649h3v1h-3zM179 649h3v1h-3zM185 649h1v1h-1zM565 649h1v1h-1zM131 650h3v1h-3zM137 650h1v1h-1zM161 650h3v1h-3zM167 650h3v1h-3zM173 650h3v1h-3zM649 650h1v1h-1zM138 651h2v1h-2zM143 651h3v1h-3zM149 651h3v1h-3zM155 651h3v1h-3zM569 651h1v1h-1zM648 651h1v1h-1zM570 652h2v1h-2zM647 652h1v1h-1zM575 655h1v1h-1zM576 656h1v1h-1zM643 656h1v1h-1zM577 657h1v1h-1zM642 657h1v1h-1zM641 658h1v1h-1zM581 660h2v1h-2zM583 661h1v1h-1zM636 662h2v1h-2zM587 663h2v1h-2zM635 663h1v1h-1zM589 664h1v1h-1zM593 665h2v1h-2zM631 665h1v1h-1zM595 666h1v1h-1zM629 666h2v1h-2zM599 667h2v1h-2zM601 668h1v1h-1zM623 668h3v1h-3zM605 669h3v1h-3zM611 669h2v1h-2zM617 669h3v1h-3zM613 670h1v1h-1z"/>
</g>
<g shape-rendering="crispEdges" fill="#000">
<rect x="4" y="31" width="1486" height="1"/>
<rect x="4" y="31" width="1" height="654"/>
<rect x="1489" y="31" width="1" height="654"/>
<rect x="4" y="507" width="1486" height="1"/>
<rect x="5" y="508" width="1484" height="1" fill="#fff"/>
<rect x="4" y="509" width="1486" height="1"/>
<rect x="4" y="596" width="1486" height="1"/>
<rect x="5" y="597" width="1484" height="1" fill="#fff"/>
<rect x="4" y="598" width="1486" height="1"/>
<rect x="4" y="684" width="1486" height="1"/>
<rect x="1490" y="42" width="2" height="1"/>
<rect x="1490" y="75" width="2" height="1"/>
<rect x="1490" y="108" width="2" height="1"/>
<rect x="1490" y="141" width="2" height="1"/>
<rect x="1490" y="174" width="2" height="1"/>
<rect x="1490" y="207" width="2" height="1"/>
<rect x="1490" y="240" width="2" height="1"/>
<rect x="1490" y="273" width="2" height="1"/>
<rect x="1490" y="306" width="2" height="1"/>
<rect x="1490" y="339" width="2" height="1"/>
<rect x="1490" y="372" width="2" height="1"/>
<rect x="1490" y="405" width="2" height="1"/>
<rect x="1490" y="438" width="2" height="1"/>
<rect x="1490" y="471" width="2" height="1"/>
<rect x="1490" y="504" width="2" height="1"/>
<rect x="1490" y="511" width="1" height="1"/>
<rect x="1490" y="536" width="1" height="1"/>
<rect x="1490" y="570" width="1" height="1"/>
<rect x="1490" y="595" width="1" height="1"/>
<rect x="1490" y="600" width="1" height="1"/>
<rect x="1490" y="628" width="1" height="1"/>
<rect x="1490" y="683" width="1" height="1"/>
<rect x="5" y="685" width="1" height="3"/>
<rect x="69" y="685" width="1" height="3"/>
<rect x="133" y="685" width="1" height="3"/>
<rect x="197" y="685" width="1" height="3"/>
<rect x="261" y="685" width="1" height="3"/>
<rect x="325" y="685" width="1" height="3"/>
<rect x="389" y="685" width="1" height="3"/>
<rect x="453" y="685" width="1" height="3"/>
<rect x="517" y="685" width="1" height="3"/>
<rect x="581" y="685" width="1" height="3"/>
<rect x="645" y="685" width="1" height="3"/>
<rect x="709" y="685" width="1" height="3"/>
<rect x="773" y="685" width="1" height="3"/>
<rect x="837" y="685" width="1" height="3"/>
<rect x="901" y="685" width="1" height="3"/>
<rect x="965" y="685" width="1" height="3"/>
<rect x="1029" y="685" width="1" height="3"/>
<rect x="1093" y="685" width="1" height="3"/>
<rect x="1157" y="685" width="1" height="3"/>
</g>
<g shape-rendering="crispEdges">
<rect x="4" y="50" width="6" height="6" fill="#ff0000"/><rect x="6" y="52" width="2" height="2" fill="#fff"/><rect x="1483" y="50" width="6" height="6" fill="#ff0000"/><rect x="1485" y="52" width="2" height="2" fill="#fff"/>
<rect x="4" y="111" width="6" height="6" fill="#ff0000"/><rect x="6" y="113" width="2" height="2" fill="#fff"/><rect x="1483" y="111" width="6" height="6" fill="#ff0000"/><rect x="1485" y="113" width="2" height="2" fill="#fff"/>
<rect x="4" y="185" width="6" height="6" fill="#00ff00"/><rect x="6" y="187" width="2" height="2" fill="#fff"/><rect x="1483" y="185" width="6" height="6" fill="#00ff00"/><rect x="1485" y="187" width="2" height="2" fill="#fff"/>
<rect x="4" y="256" width="6" height="6" fill="#0000ff"/><rect x="6" y="258" width="2" height="2" fill="#fff"/><rect x="1483" y="256" width="6" height="6" fill="#0000ff"/><rect x="1485" y="258" width="2" height="2" fill="#fff"/>
<rect x="4" y="332" width="6" height="6" fill="#0000ff"/><rect x="6" y="334" width="2" height="2" fill="#fff"/><rect x="1483" y="332" width="6" height="6" fill="#0000ff"/><rect x="1485" y="334" width="2" height="2" fill="#fff"/>
</g>
<path d="M1186 32h10l-5 5.5z" fill="#c0c0c0"/>
<path d="M8 38h7l-3.5 4z" fill="#000"/>
<g class="ct" font-family="'Liberation Sans', sans-serif">
<text x="20" y="43" fill="#000" stroke="#000" font-size="9.8" text-anchor="start" textLength="64" lengthAdjust="spacingAndGlyphs">USDCHF,Daily</text>
<text x="91.5" y="43" fill="#000" stroke="#000" font-size="9.8" text-anchor="start" textLength="140.5" lengthAdjust="spacingAndGlyphs">0.95649 0.95673 0.95428 0.95518</text>
<text x="9" y="522" fill="#000" stroke="#000" font-size="9.8" text-anchor="start" textLength="68" lengthAdjust="spacingAndGlyphs">RSI(14) 33.5048</text>
<text x="9" y="611" fill="#000" stroke="#000" font-size="9.8" text-anchor="start" textLength="153.5" lengthAdjust="spacingAndGlyphs">MACD(12,26,9) -0.003169 -0.001636</text>
<text x="1495" y="46" fill="#000" stroke="#000" font-size="9.8" text-anchor="start" textLength="33" lengthAdjust="spacingAndGlyphs">0.99190</text>
<text x="1495" y="79" fill="#000" stroke="#000" font-size="9.8" text-anchor="start" textLength="33" lengthAdjust="spacingAndGlyphs">0.98650</text>
<text x="1495" y="112" fill="#000" stroke="#000" font-size="9.8" text-anchor="start" textLength="33" lengthAdjust="spacingAndGlyphs">0.98110</text>
<text x="1495" y="145" fill="#000" stroke="#000" font-size="9.8" text-anchor="start" textLength="33" lengthAdjust="spacingAndGlyphs">0.97570</text>
<text x="1495" y="178" fill="#000" stroke="#000" font-size="9.8" text-anchor="start" textLength="33" lengthAdjust="spacingAndGlyphs">0.97045</text>
<text x="1495" y="211" fill="#000" stroke="#000" font-size="9.8" text-anchor="start" textLength="33" lengthAdjust="spacingAndGlyphs">0.96505</text>
<text x="1495" y="244" fill="#000" stroke="#000" font-size="9.8" text-anchor="start" textLength="33" lengthAdjust="spacingAndGlyphs">0.95965</text>
<text x="1495" y="277" fill="#000" stroke="#000" font-size="9.8" text-anchor="start" textLength="33" lengthAdjust="spacingAndGlyphs">0.95425</text>
<text x="1495" y="310" fill="#000" stroke="#000" font-size="9.8" text-anchor="start" textLength="33" lengthAdjust="spacingAndGlyphs">0.94885</text>
<text x="1495" y="343" fill="#000" stroke="#000" font-size="9.8" text-anchor="start" textLength="33" lengthAdjust="spacingAndGlyphs">0.94345</text>
<text x="1495" y="376" fill="#000" stroke="#000" font-size="9.8" text-anchor="start" textLength="33" lengthAdjust="spacingAndGlyphs">0.93820</text>
<text x="1495" y="409" fill="#000" stroke="#000" font-size="9.8" text-anchor="start" textLength="33" lengthAdjust="spacingAndGlyphs">0.93280</text>
<text x="1495" y="442" fill="#000" stroke="#000" font-size="9.8" text-anchor="start" textLength="33" lengthAdjust="spacingAndGlyphs">0.92740</text>
<text x="1495" y="475" fill="#000" stroke="#000" font-size="9.8" text-anchor="start" textLength="33" lengthAdjust="spacingAndGlyphs">0.92200</text>
<text x="1495" y="508" fill="#000" stroke="#000" font-size="9.8" text-anchor="start" textLength="33" lengthAdjust="spacingAndGlyphs">0.91675</text>
<rect x="1491" y="47" width="39" height="11" fill="#ff0000" shape-rendering="crispEdges"/><text x="1495" y="56" fill="#fff" stroke="#fff" font-size="9.8" text-anchor="start" textLength="33" lengthAdjust="spacingAndGlyphs">0.99007</text>
<rect x="1491" y="108" width="39" height="11" fill="#ff0000" shape-rendering="crispEdges"/><text x="1495" y="117" fill="#fff" stroke="#fff" font-size="9.8" text-anchor="start" textLength="33" lengthAdjust="spacingAndGlyphs">0.98010</text>
<rect x="1491" y="182" width="39" height="11" fill="#00ff00" shape-rendering="crispEdges"/><text x="1495" y="191" fill="#fff" stroke="#fff" font-size="9.8" text-anchor="start" textLength="33" lengthAdjust="spacingAndGlyphs">0.96803</text>
<rect x="1491" y="263" width="39" height="10" fill="#000" shape-rendering="crispEdges"/><text x="1495" y="272" fill="#fff" stroke="#fff" font-size="9.8" text-anchor="start" textLength="33" lengthAdjust="spacingAndGlyphs">0.95518</text>
<rect x="1491" y="253" width="39" height="11" fill="#0000ff" shape-rendering="crispEdges"/><text x="1495" y="262" fill="#fff" stroke="#fff" font-size="9.8" text-anchor="start" textLength="33" lengthAdjust="spacingAndGlyphs">0.95658</text>
<rect x="1491" y="329" width="39" height="11" fill="#0000ff" shape-rendering="crispEdges"/><text x="1495" y="338" fill="#fff" stroke="#fff" font-size="9.8" text-anchor="start" textLength="33" lengthAdjust="spacingAndGlyphs">0.94414</text>
<text x="1493.5" y="520" fill="#000" stroke="#000" font-size="9.8" text-anchor="start" textLength="15" lengthAdjust="spacingAndGlyphs">100</text>
<text x="1492.5" y="540" fill="#000" stroke="#000" font-size="9.8" text-anchor="start" textLength="9.8" lengthAdjust="spacingAndGlyphs">70</text>
<text x="1492.5" y="574" fill="#000" stroke="#000" font-size="9.8" text-anchor="start" textLength="9.8" lengthAdjust="spacingAndGlyphs">30</text>
<text x="1493.2" y="593" fill="#000" stroke="#000" font-size="9.8" text-anchor="start" textLength="4.8" lengthAdjust="spacingAndGlyphs">0</text>
<text x="1493.2" y="609" fill="#000" stroke="#000" font-size="9.8" text-anchor="start" textLength="38" lengthAdjust="spacingAndGlyphs">0.005818</text>
<text x="1493.2" y="632" fill="#000" stroke="#000" font-size="9.8" text-anchor="start" textLength="18" lengthAdjust="spacingAndGlyphs">0.00</text>
<text x="1493.2" y="681" fill="#000" stroke="#000" font-size="9.8" text-anchor="start" textLength="39.5" lengthAdjust="spacingAndGlyphs">-0.011514</text>
<text x="4.5" y="697" fill="#000" stroke="#000" font-size="9.8" text-anchor="start" textLength="51.6" lengthAdjust="spacingAndGlyphs">18 Dec 2019</text>
<text x="68.5" y="697" fill="#000" stroke="#000" font-size="9.8" text-anchor="start" textLength="51.6" lengthAdjust="spacingAndGlyphs">27 Dec 2019</text>
<text x="132.5" y="697" fill="#000" stroke="#000" font-size="9.8" text-anchor="start" textLength="45" lengthAdjust="spacingAndGlyphs">6 Jan 2020</text>
<text x="196.5" y="697" fill="#000" stroke="#000" font-size="9.8" text-anchor="start" textLength="50.1" lengthAdjust="spacingAndGlyphs">15 Jan 2020</text>
<text x="260.5" y="697" fill="#000" stroke="#000" font-size="9.8" text-anchor="start" textLength="50.1" lengthAdjust="spacingAndGlyphs">24 Jan 2020</text>
<text x="324.5" y="697" fill="#000" stroke="#000" font-size="9.8" text-anchor="start" textLength="46" lengthAdjust="spacingAndGlyphs">3 Feb 2020</text>
<text x="388.5" y="697" fill="#000" stroke="#000" font-size="9.8" text-anchor="start" textLength="51.1" lengthAdjust="spacingAndGlyphs">12 Feb 2020</text>
<text x="452.5" y="697" fill="#000" stroke="#000" font-size="9.8" text-anchor="start" textLength="51.1" lengthAdjust="spacingAndGlyphs">21 Feb 2020</text>
<text x="516.5" y="697" fill="#000" stroke="#000" font-size="9.8" text-anchor="start" textLength="46" lengthAdjust="spacingAndGlyphs">2 Mar 2020</text>
<text x="580.5" y="697" fill="#000" stroke="#000" font-size="9.8" text-anchor="start" textLength="50.4" lengthAdjust="spacingAndGlyphs">11 Mar 2020</text>
<text x="644.5" y="697" fill="#000" stroke="#000" font-size="9.8" text-anchor="start" textLength="51.1" lengthAdjust="spacingAndGlyphs">20 Mar 2020</text>
<text x="708.5" y="697" fill="#000" stroke="#000" font-size="9.8" text-anchor="start" textLength="51.1" lengthAdjust="spacingAndGlyphs">30 Mar 2020</text>
<text x="772.5" y="697" fill="#000" stroke="#000" font-size="9.8" text-anchor="start" textLength="44" lengthAdjust="spacingAndGlyphs">8 Apr 2020</text>
<text x="836.5" y="697" fill="#000" stroke="#000" font-size="9.8" text-anchor="start" textLength="49.1" lengthAdjust="spacingAndGlyphs">17 Apr 2020</text>
<text x="900.5" y="697" fill="#000" stroke="#000" font-size="9.8" text-anchor="start" textLength="49.1" lengthAdjust="spacingAndGlyphs">27 Apr 2020</text>
<text x="964.5" y="697" fill="#000" stroke="#000" font-size="9.8" text-anchor="start" textLength="47.5" lengthAdjust="spacingAndGlyphs">6 May 2020</text>
<text x="1028.5" y="697" fill="#000" stroke="#000" font-size="9.8" text-anchor="start" textLength="52.6" lengthAdjust="spacingAndGlyphs">15 May 2020</text>
<text x="1092.5" y="697" fill="#000" stroke="#000" font-size="9.8" text-anchor="start" textLength="52.6" lengthAdjust="spacingAndGlyphs">25 May 2020</text>
<text x="1156.5" y="697" fill="#000" stroke="#000" font-size="9.8" text-anchor="start" textLength="45" lengthAdjust="spacingAndGlyphs">3 Jun 2020</text>
</g>
<g><text x="18.4" y="722" fill="#7a7a7a" font-size="12.2" textLength="80" lengthAdjust="spacingAndGlyphs">EURUSD,Daily</text><text x="120" y="722" fill="#000" font-size="12.2" textLength="80" lengthAdjust="spacingAndGlyphs">USDCHF,Daily</text><text x="221" y="722" fill="#7a7a7a" font-size="12.2" textLength="82" lengthAdjust="spacingAndGlyphs">AUDUSD,Daily</text><text x="325.5" y="722" fill="#7a7a7a" font-size="12.2" textLength="81" lengthAdjust="spacingAndGlyphs">USDCAD,Daily</text><text x="429" y="722" fill="#7a7a7a" font-size="12.2" textLength="82" lengthAdjust="spacingAndGlyphs">USDCNH,Daily</text><text x="534.3" y="722" fill="#7a7a7a" font-size="12.2" textLength="80" lengthAdjust="spacingAndGlyphs">EURUSD,Daily</text><text x="638.2" y="722" fill="#7a7a7a" font-size="12.2" textLength="80" lengthAdjust="spacingAndGlyphs">GBPUSD,Daily</text><text x="741.2" y="722" fill="#7a7a7a" font-size="12.2" textLength="68.6" lengthAdjust="spacingAndGlyphs">XAUUSD,H4</text><text x="833.3" y="722" fill="#7a7a7a" font-size="12.2" textLength="49" lengthAdjust="spacingAndGlyphs">HK50,H1</text><text x="905.2" y="722" fill="#7a7a7a" font-size="12.2" textLength="56.6" lengthAdjust="spacingAndGlyphs">UK100,H1</text><text x="985.3" y="722" fill="#7a7a7a" font-size="12.2" textLength="56.9" lengthAdjust="spacingAndGlyphs">UK100,H1</text><text x="1065" y="722" fill="#7a7a7a" font-size="12.2" textLength="56.6" lengthAdjust="spacingAndGlyphs">GER30,H1</text><text x="1144.4" y="722" fill="#7a7a7a" font-size="12.2" textLength="54.6" lengthAdjust="spacingAndGlyphs">FRA40,H1</text><text x="1220.6" y="722" fill="#7a7a7a" font-size="12.2" textLength="62.7" lengthAdjust="spacingAndGlyphs">USOil,Daily</text><text x="1304.6" y="722" fill="#7a7a7a" font-size="12.2" textLength="62.1" lengthAdjust="spacingAndGlyphs">USDJPY,H1</text><text x="1387.9" y="722" fill="#7a7a7a" font-size="12.2" textLength="46.7" lengthAdjust="spacingAndGlyphs">DJ30,H1</text><rect x="314" y="710" width="1" height="14" fill="#555" shape-rendering="crispEdges"/><rect x="418" y="710" width="1" height="14" fill="#555" shape-rendering="crispEdges"/><rect x="522" y="710" width="1" height="14" fill="#555" shape-rendering="crispEdges"/><rect x="626" y="710" width="1" height="14" fill="#555" shape-rendering="crispEdges"/><rect x="730" y="710" width="1" height="14" fill="#555" shape-rendering="crispEdges"/><rect x="822" y="710" width="1" height="14" fill="#555" shape-rendering="crispEdges"/><rect x="895" y="710" width="1" height="14" fill="#555" shape-rendering="crispEdges"/><rect x="974" y="710" width="1" height="14" fill="#555" shape-rendering="crispEdges"/><rect x="1054" y="710" width="1" height="14" fill="#555" shape-rendering="crispEdges"/><rect x="1134" y="710" width="1" height="14" fill="#555" shape-rendering="crispEdges"/><rect x="1210" y="710" width="1" height="14" fill="#555" shape-rendering="crispEdges"/><rect x="1294" y="710" width="1" height="14" fill="#555" shape-rendering="crispEdges"/><rect x="1378" y="710" width="1" height="14" fill="#555" shape-rendering="crispEdges"/><rect x="1447" y="710" width="1" height="14" fill="#555" shape-rendering="crispEdges"/><path d="M1508.5 712.5l-4 3.5 4 3.5z" fill="#a0a0a0"/><path d="M1523.5 712.5l4 3.5-4 3.5z" fill="#a0a0a0"/></g>
</svg>
<svg width="200" height="27" viewBox="0 0 200 27" style="will-change:transform"><text x="0" y="19" fill="#2a2a2a" font-size="9.8" textLength="8" lengthAdjust="spacingAndGlyphs">15</text><text x="19" y="19" fill="#2a2a2a" font-size="9.8" textLength="17.6" lengthAdjust="spacingAndGlyphs">M30</text><text x="50" y="19" fill="#2a2a2a" font-size="9.8" textLength="11.5" lengthAdjust="spacingAndGlyphs">H1</text><text x="77" y="19" fill="#2a2a2a" font-size="9.8" textLength="12.5" lengthAdjust="spacingAndGlyphs">H4</text><text x="105.5" y="19" fill="#2a2a2a" font-size="9.8" textLength="12" lengthAdjust="spacingAndGlyphs">D1</text><text x="133" y="19" fill="#2a2a2a" font-size="9.8" textLength="14.5" lengthAdjust="spacingAndGlyphs">W1</text><text x="159.5" y="19" fill="#2a2a2a" font-size="9.8" textLength="14.5" lengthAdjust="spacingAndGlyphs">MN</text></svg>
</body></html>
